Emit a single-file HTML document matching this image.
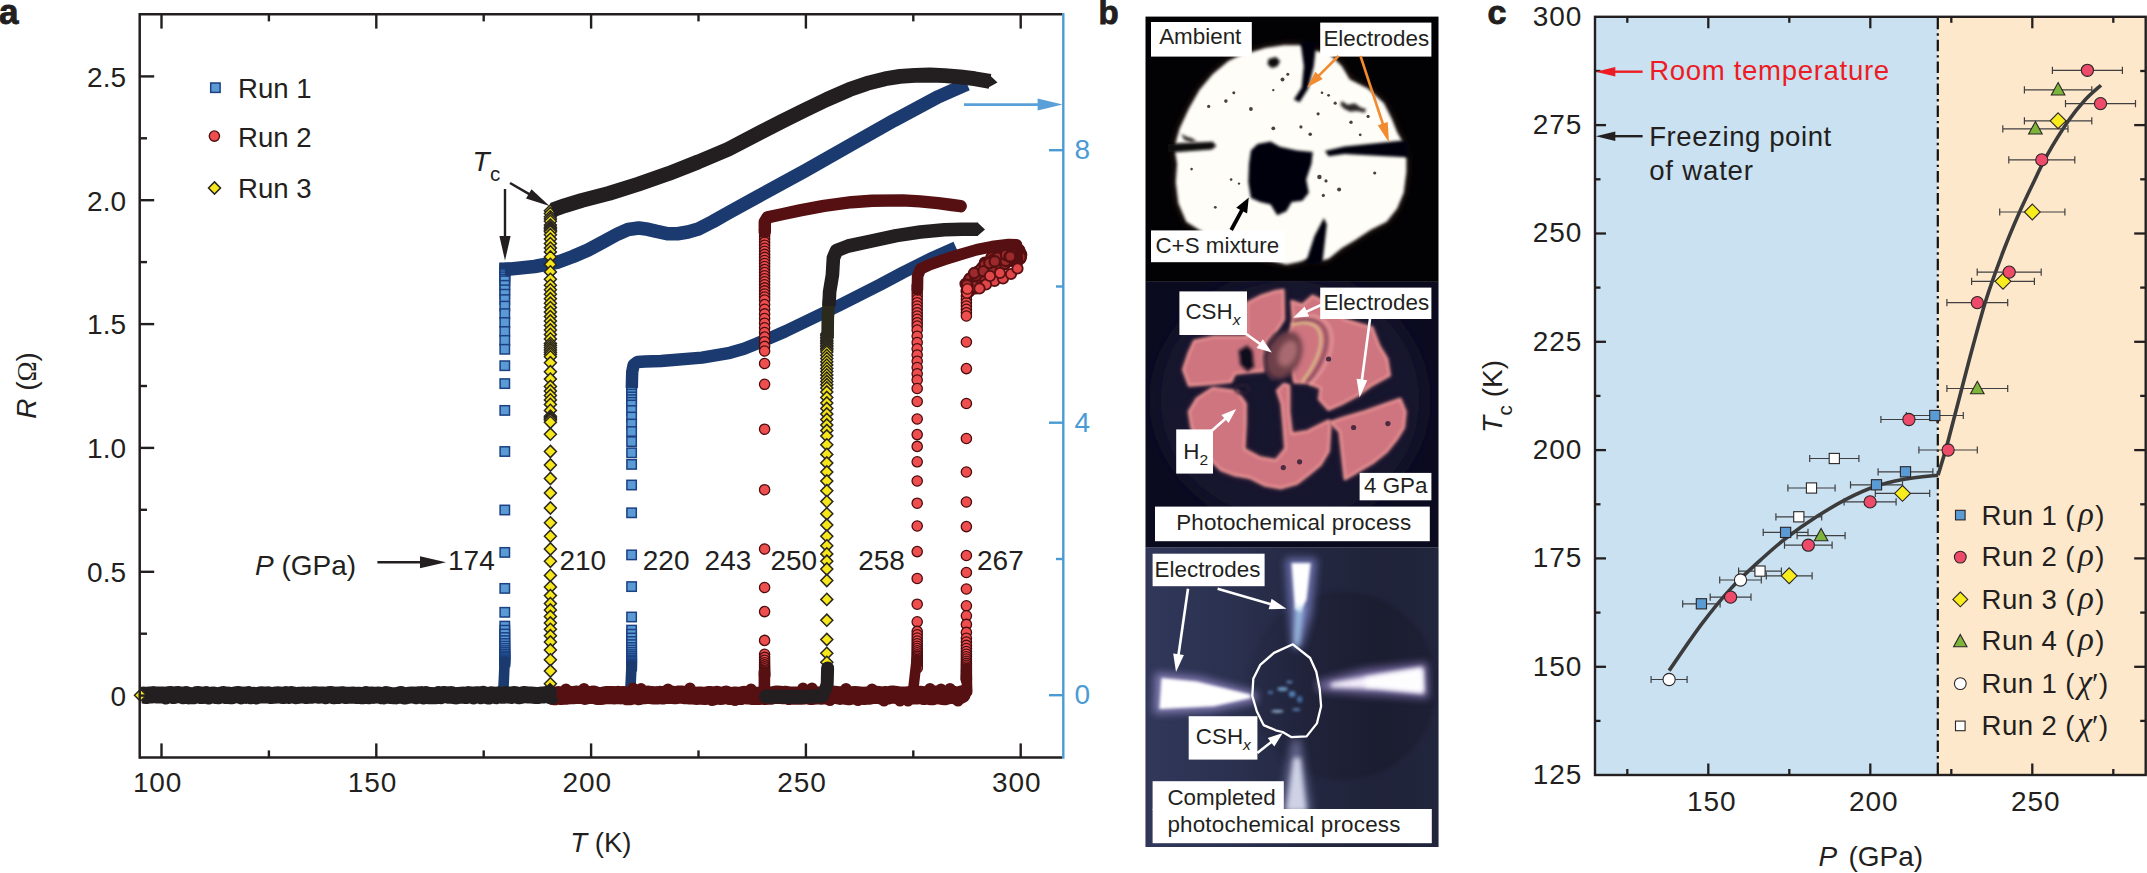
<!DOCTYPE html>
<html><head><meta charset="utf-8"><title>Figure</title>
<style>
html,body{margin:0;padding:0;background:#fff;}
svg{display:block;font-family:"Liberation Sans",sans-serif;}
</style></head><body>
<svg width="2147" height="873" viewBox="0 0 2147 873">
<defs>
<filter id="b1" filterUnits="userSpaceOnUse" x="1100" y="0" width="400" height="873"><feGaussianBlur stdDeviation="1.6"/></filter>
<filter id="b2" filterUnits="userSpaceOnUse" x="1100" y="0" width="400" height="873"><feGaussianBlur stdDeviation="2.6"/></filter>
<filter id="b4" filterUnits="userSpaceOnUse" x="1100" y="0" width="400" height="873"><feGaussianBlur stdDeviation="4.5"/></filter>
<filter id="b8" filterUnits="userSpaceOnUse" x="1100" y="0" width="400" height="873"><feGaussianBlur stdDeviation="9"/></filter>
<symbol id="sq" overflow="visible"><rect x="-4.7" y="-4.7" width="9.4" height="9.4" fill="#5b9bd5" stroke="#1b4083" stroke-width="1.5"/></symbol>
<symbol id="ci" overflow="visible"><circle r="5.15" fill="#ee4e4e" stroke="#4a0d0f" stroke-width="1.3"/></symbol>
<symbol id="di" overflow="visible"><path d="M0-6.1L6 0L0 6.1L-6 0Z" fill="#f6e71d" stroke="#2a2620" stroke-width="1.5"/></symbol>
<clipPath id="cpb1"><rect x="1145.5" y="16.6" width="293" height="264.2"/></clipPath>
<clipPath id="cpb2"><rect x="1145.5" y="280.8" width="293" height="266.7"/></clipPath>
<clipPath id="cpb3"><rect x="1145.5" y="547.5" width="293" height="299.5"/></clipPath>
<linearGradient id="g3" gradientUnits="userSpaceOnUse" x1="1145" y1="0" x2="1439" y2="0">
<stop offset="0" stop-color="#31375a"/><stop offset="0.3" stop-color="#292e4c"/><stop offset="0.55" stop-color="#20233a"/><stop offset="0.8" stop-color="#1b1d31"/><stop offset="1" stop-color="#1e2035"/></linearGradient>
</defs>
<rect width="2147" height="873" fill="#fff"/>
<g id="panel-a">
<use href="#sq" x="504.8" y="268"/>
<use href="#sq" x="504.8" y="270.2"/>
<use href="#sq" x="504.8" y="272.4"/>
<use href="#sq" x="504.8" y="274.6"/>
<use href="#sq" x="504.8" y="276.8"/>
<use href="#sq" x="504.8" y="279"/>
<use href="#sq" x="504.8" y="280.8"/>
<use href="#sq" x="504.8" y="285.3"/>
<use href="#sq" x="504.8" y="289.8"/>
<use href="#sq" x="504.8" y="294.2"/>
<use href="#sq" x="504.8" y="299.6"/>
<use href="#sq" x="504.8" y="306.1"/>
<use href="#sq" x="504.8" y="313.6"/>
<use href="#sq" x="504.8" y="322.5"/>
<use href="#sq" x="504.8" y="331.5"/>
<use href="#sq" x="504.8" y="340.4"/>
<use href="#sq" x="504.8" y="349.3"/>
<use href="#sq" x="504.8" y="365.7"/>
<use href="#sq" x="504.8" y="383.6"/>
<use href="#sq" x="504.8" y="410.4"/>
<use href="#sq" x="504.8" y="451.5"/>
<use href="#sq" x="504.8" y="510"/>
<use href="#sq" x="504.8" y="552.4"/>
<use href="#sq" x="504.8" y="588.4"/>
<use href="#sq" x="504.8" y="612.3"/>
<use href="#sq" x="504.8" y="626.1"/>
<use href="#sq" x="504.8" y="630.2"/>
<use href="#sq" x="504.8" y="634"/>
<use href="#sq" x="504.8" y="637.5"/>
<use href="#sq" x="504.8" y="640.6"/>
<use href="#sq" x="504.8" y="643.5"/>
<use href="#sq" x="504.8" y="646.1"/>
<use href="#sq" x="504.8" y="648.4"/>
<use href="#sq" x="504.8" y="650.6"/>
<use href="#sq" x="504.8" y="652.5"/>
<use href="#sq" x="504.8" y="654.3"/>
<use href="#sq" x="504.8" y="655.9"/>
<use href="#sq" x="504.8" y="657.4"/>
<use href="#sq" x="504.8" y="658.7"/>
<use href="#sq" x="504.8" y="659.9"/>
<use href="#sq" x="504.8" y="661"/>
<use href="#sq" x="504.8" y="662"/>
<use href="#sq" x="631.6" y="386"/>
<use href="#sq" x="631.6" y="388.7"/>
<use href="#sq" x="631.6" y="391.4"/>
<use href="#sq" x="631.6" y="394.1"/>
<use href="#sq" x="631.6" y="396.9"/>
<use href="#sq" x="631.6" y="399.6"/>
<use href="#sq" x="631.6" y="402.3"/>
<use href="#sq" x="631.6" y="405"/>
<use href="#sq" x="631.6" y="410.5"/>
<use href="#sq" x="631.6" y="417"/>
<use href="#sq" x="631.6" y="424"/>
<use href="#sq" x="631.6" y="431.5"/>
<use href="#sq" x="631.6" y="441.6"/>
<use href="#sq" x="631.6" y="452.8"/>
<use href="#sq" x="631.6" y="464.4"/>
<use href="#sq" x="631.6" y="485"/>
<use href="#sq" x="631.6" y="512.8"/>
<use href="#sq" x="631.6" y="554.9"/>
<use href="#sq" x="631.6" y="586.6"/>
<use href="#sq" x="631.6" y="617"/>
<use href="#sq" x="631.6" y="630.1"/>
<use href="#sq" x="631.6" y="634.2"/>
<use href="#sq" x="631.6" y="638"/>
<use href="#sq" x="631.6" y="641.5"/>
<use href="#sq" x="631.6" y="644.6"/>
<use href="#sq" x="631.6" y="647.5"/>
<use href="#sq" x="631.6" y="650.1"/>
<use href="#sq" x="631.6" y="652.4"/>
<use href="#sq" x="631.6" y="654.6"/>
<use href="#sq" x="631.6" y="656.5"/>
<use href="#sq" x="631.6" y="658.3"/>
<use href="#sq" x="631.6" y="659.9"/>
<use href="#sq" x="631.6" y="661.4"/>
<use href="#sq" x="631.6" y="662.7"/>
<use href="#sq" x="631.6" y="663.9"/>
<use href="#sq" x="631.6" y="665"/>
<use href="#sq" x="631.6" y="666"/>
<polyline points="631.8,388 632.2,372 633.6,365 637.5,362 645,361.5 661,361 702,357.6 730,352.8 744,348.8 757,343.5 771,337.6 785,331.5 812,318.5 840,305 880,284.8 903,272.5 930,259 956,247.4" fill="none" stroke="#1b3a6f" stroke-width="12.4" stroke-linecap="butt" stroke-linejoin="round" />
<polyline points="504.8,269.6 534.5,266.5 558.3,262 573,256.5 588.1,250 603,242 617.9,233.9 628,229.6 638.8,228 648,229.3 656.7,231.4 667,233.6 677.5,233.7 688,232 698.4,229 713,221.5 728.2,212.8 758,196.5 804.7,171 849.4,145.7 894,120.4 938.7,96.6 967,84" fill="none" stroke="#1b3a6f" stroke-width="13.6" stroke-linecap="butt" stroke-linejoin="round" />
<polyline points="504.8,269 504.8,262.8" fill="none" stroke="#1b3a6f" stroke-width="10.8" stroke-linecap="butt" stroke-linejoin="round" />
<use href="#ci" x="764.6" y="230"/>
<use href="#ci" x="764.6" y="233"/>
<use href="#ci" x="764.6" y="236.1"/>
<use href="#ci" x="764.6" y="239.1"/>
<use href="#ci" x="764.6" y="242.2"/>
<use href="#ci" x="764.6" y="245.2"/>
<use href="#ci" x="764.6" y="248.3"/>
<use href="#ci" x="764.6" y="251.3"/>
<use href="#ci" x="764.6" y="254.4"/>
<use href="#ci" x="764.6" y="257.4"/>
<use href="#ci" x="764.6" y="260.5"/>
<use href="#ci" x="764.6" y="263.5"/>
<use href="#ci" x="764.6" y="266.5"/>
<use href="#ci" x="764.6" y="269.6"/>
<use href="#ci" x="764.6" y="272.6"/>
<use href="#ci" x="764.6" y="275.7"/>
<use href="#ci" x="764.6" y="278.7"/>
<use href="#ci" x="764.6" y="281.8"/>
<use href="#ci" x="764.6" y="284.8"/>
<use href="#ci" x="764.6" y="287.9"/>
<use href="#ci" x="764.6" y="290.9"/>
<use href="#ci" x="764.6" y="294"/>
<use href="#ci" x="764.6" y="297"/>
<use href="#ci" x="764.6" y="300"/>
<use href="#ci" x="764.6" y="304.6"/>
<use href="#ci" x="764.6" y="309.3"/>
<use href="#ci" x="764.6" y="313.9"/>
<use href="#ci" x="764.6" y="318.5"/>
<use href="#ci" x="764.6" y="323.2"/>
<use href="#ci" x="764.6" y="327.8"/>
<use href="#ci" x="764.6" y="332.5"/>
<use href="#ci" x="764.6" y="337.1"/>
<use href="#ci" x="764.6" y="341.7"/>
<use href="#ci" x="764.6" y="346.4"/>
<use href="#ci" x="764.6" y="351"/>
<use href="#ci" x="764.6" y="363.5"/>
<use href="#ci" x="764.6" y="384.3"/>
<use href="#ci" x="764.6" y="429.2"/>
<use href="#ci" x="764.6" y="489.7"/>
<use href="#ci" x="764.6" y="549"/>
<use href="#ci" x="764.6" y="587.5"/>
<use href="#ci" x="764.6" y="611.6"/>
<use href="#ci" x="764.6" y="640.4"/>
<use href="#ci" x="764.6" y="654.3"/>
<use href="#ci" x="764.6" y="657.4"/>
<use href="#ci" x="764.6" y="660.2"/>
<use href="#ci" x="764.6" y="662.7"/>
<use href="#ci" x="764.6" y="664.9"/>
<use href="#ci" x="764.6" y="666.9"/>
<use href="#ci" x="764.6" y="668.7"/>
<use href="#ci" x="764.6" y="670.3"/>
<use href="#ci" x="764.6" y="671.7"/>
<use href="#ci" x="764.6" y="673"/>
<use href="#ci" x="764.6" y="674.1"/>
<use href="#ci" x="764.6" y="675.1"/>
<use href="#ci" x="764.6" y="676"/>
<use href="#ci" x="917.2" y="286"/>
<use href="#ci" x="917.2" y="289.3"/>
<use href="#ci" x="917.2" y="292.7"/>
<use href="#ci" x="917.2" y="296"/>
<use href="#ci" x="917.2" y="299.3"/>
<use href="#ci" x="917.2" y="302.7"/>
<use href="#ci" x="917.2" y="306"/>
<use href="#ci" x="917.2" y="309.3"/>
<use href="#ci" x="917.2" y="312.7"/>
<use href="#ci" x="917.2" y="316"/>
<use href="#ci" x="917.2" y="319.3"/>
<use href="#ci" x="917.2" y="322.7"/>
<use href="#ci" x="917.2" y="326"/>
<use href="#ci" x="917.2" y="330"/>
<use href="#ci" x="917.2" y="336.2"/>
<use href="#ci" x="917.2" y="342.5"/>
<use href="#ci" x="917.2" y="348.8"/>
<use href="#ci" x="917.2" y="355"/>
<use href="#ci" x="917.2" y="361.2"/>
<use href="#ci" x="917.2" y="367.5"/>
<use href="#ci" x="917.2" y="373.8"/>
<use href="#ci" x="917.2" y="380"/>
<use href="#ci" x="917.2" y="388.5"/>
<use href="#ci" x="917.2" y="401.5"/>
<use href="#ci" x="917.2" y="419"/>
<use href="#ci" x="917.2" y="434.6"/>
<use href="#ci" x="917.2" y="446.4"/>
<use href="#ci" x="917.2" y="461.8"/>
<use href="#ci" x="917.2" y="481"/>
<use href="#ci" x="917.2" y="503.2"/>
<use href="#ci" x="917.2" y="526"/>
<use href="#ci" x="917.2" y="551.6"/>
<use href="#ci" x="917.2" y="578.5"/>
<use href="#ci" x="917.2" y="604.2"/>
<use href="#ci" x="917.2" y="621.8"/>
<use href="#ci" x="917.2" y="631.4"/>
<use href="#ci" x="917.2" y="634.8"/>
<use href="#ci" x="917.2" y="638"/>
<use href="#ci" x="917.2" y="641"/>
<use href="#ci" x="917.2" y="643.7"/>
<use href="#ci" x="917.2" y="646.3"/>
<use href="#ci" x="917.2" y="648.6"/>
<use href="#ci" x="917.2" y="650.8"/>
<use href="#ci" x="917.2" y="652.8"/>
<use href="#ci" x="917.2" y="654.7"/>
<use href="#ci" x="917.2" y="656.4"/>
<use href="#ci" x="917.2" y="658"/>
<use href="#ci" x="917.2" y="659.5"/>
<use href="#ci" x="917.2" y="660.9"/>
<use href="#ci" x="917.2" y="662.1"/>
<use href="#ci" x="917.2" y="663.3"/>
<use href="#ci" x="917.2" y="664.4"/>
<use href="#ci" x="917.2" y="665.4"/>
<use href="#ci" x="917.2" y="666.3"/>
<use href="#ci" x="917.2" y="667.2"/>
<use href="#ci" x="917.2" y="668"/>
<use href="#ci" x="966.4" y="296"/>
<use href="#ci" x="966.4" y="299.3"/>
<use href="#ci" x="966.4" y="302.7"/>
<use href="#ci" x="966.4" y="306"/>
<use href="#ci" x="966.4" y="309.3"/>
<use href="#ci" x="966.4" y="312.7"/>
<use href="#ci" x="966.4" y="316"/>
<use href="#ci" x="966.4" y="342"/>
<use href="#ci" x="966.4" y="368.6"/>
<use href="#ci" x="966.4" y="403.5"/>
<use href="#ci" x="966.4" y="438.5"/>
<use href="#ci" x="966.4" y="472"/>
<use href="#ci" x="966.4" y="502"/>
<use href="#ci" x="966.4" y="526.6"/>
<use href="#ci" x="966.4" y="555.5"/>
<use href="#ci" x="966.4" y="572.5"/>
<use href="#ci" x="966.4" y="589"/>
<use href="#ci" x="966.4" y="605.8"/>
<use href="#ci" x="966.4" y="615.8"/>
<use href="#ci" x="966.4" y="624.4"/>
<use href="#ci" x="966.4" y="632.4"/>
<use href="#ci" x="966.4" y="638.3"/>
<use href="#ci" x="966.4" y="642"/>
<use href="#ci" x="966.4" y="645.4"/>
<use href="#ci" x="966.4" y="648.5"/>
<use href="#ci" x="966.4" y="651.5"/>
<use href="#ci" x="966.4" y="654.2"/>
<use href="#ci" x="966.4" y="656.7"/>
<use href="#ci" x="966.4" y="659.1"/>
<use href="#ci" x="966.4" y="661.3"/>
<use href="#ci" x="966.4" y="663.4"/>
<use href="#ci" x="966.4" y="665.3"/>
<use href="#ci" x="966.4" y="667"/>
<use href="#ci" x="966.4" y="668.7"/>
<use href="#ci" x="966.4" y="670.2"/>
<use href="#ci" x="966.4" y="671.6"/>
<use href="#ci" x="966.4" y="673"/>
<use href="#ci" x="966.4" y="674.2"/>
<use href="#ci" x="966.4" y="675.4"/>
<use href="#ci" x="966.4" y="676.4"/>
<use href="#ci" x="966.4" y="677.4"/>
<use href="#ci" x="966.4" y="678.3"/>
<use href="#ci" x="966.4" y="679.2"/>
<use href="#ci" x="966.4" y="680"/>
<polyline points="968,291 972.5,281 979.5,274 988,267 995.5,261.5 1004,258 1012,255.5 1018,251" fill="none" stroke="#571012" stroke-width="15" stroke-linecap="round" stroke-linejoin="round" />
<circle cx="979.1" cy="274.3" r="5.2" fill="#9c2a2c" stroke="#571012" stroke-width="2.2"/>
<circle cx="971.1" cy="285" r="5.2" fill="#9c2a2c" stroke="#571012" stroke-width="2.2"/>
<circle cx="970.4" cy="282.4" r="5.2" fill="#9c2a2c" stroke="#571012" stroke-width="2.2"/>
<circle cx="984.9" cy="262.8" r="5.2" fill="#9c2a2c" stroke="#571012" stroke-width="2.2"/>
<circle cx="991.2" cy="263.6" r="5.2" fill="#9c2a2c" stroke="#571012" stroke-width="2.2"/>
<circle cx="978.1" cy="282.5" r="5.2" fill="#9c2a2c" stroke="#571012" stroke-width="2.2"/>
<circle cx="995.4" cy="267.1" r="5.2" fill="#9c2a2c" stroke="#571012" stroke-width="2.2"/>
<circle cx="973.2" cy="285.9" r="5.2" fill="#9c2a2c" stroke="#571012" stroke-width="2.2"/>
<circle cx="969.6" cy="279.3" r="5.2" fill="#9c2a2c" stroke="#571012" stroke-width="2.2"/>
<circle cx="1007.3" cy="257.6" r="5.2" fill="#9c2a2c" stroke="#571012" stroke-width="2.2"/>
<circle cx="998.9" cy="260.9" r="5.2" fill="#9c2a2c" stroke="#571012" stroke-width="2.2"/>
<circle cx="966.5" cy="283.9" r="5.2" fill="#9c2a2c" stroke="#571012" stroke-width="2.2"/>
<circle cx="1001.8" cy="257.3" r="5.2" fill="#9c2a2c" stroke="#571012" stroke-width="2.2"/>
<circle cx="996.4" cy="259.5" r="5.2" fill="#9c2a2c" stroke="#571012" stroke-width="2.2"/>
<circle cx="1010.8" cy="254.3" r="5.2" fill="#9c2a2c" stroke="#571012" stroke-width="2.2"/>
<circle cx="996.4" cy="266.1" r="5.2" fill="#9c2a2c" stroke="#571012" stroke-width="2.2"/>
<circle cx="1003.4" cy="263.5" r="5.2" fill="#9c2a2c" stroke="#571012" stroke-width="2.2"/>
<circle cx="971.5" cy="286.1" r="5.2" fill="#9c2a2c" stroke="#571012" stroke-width="2.2"/>
<circle cx="973.3" cy="276" r="5.2" fill="#9c2a2c" stroke="#571012" stroke-width="2.2"/>
<circle cx="1004.1" cy="260.4" r="5.2" fill="#9c2a2c" stroke="#571012" stroke-width="2.2"/>
<circle cx="1011.6" cy="257.6" r="5.2" fill="#9c2a2c" stroke="#571012" stroke-width="2.2"/>
<circle cx="998.1" cy="261" r="5.2" fill="#9c2a2c" stroke="#571012" stroke-width="2.2"/>
<circle cx="1015.5" cy="256" r="5.2" fill="#9c2a2c" stroke="#571012" stroke-width="2.2"/>
<circle cx="997.6" cy="261.9" r="5.2" fill="#9c2a2c" stroke="#571012" stroke-width="2.2"/>
<circle cx="1004.9" cy="263.7" r="5.2" fill="#9c2a2c" stroke="#571012" stroke-width="2.2"/>
<circle cx="978.9" cy="276.4" r="5.2" fill="#9c2a2c" stroke="#571012" stroke-width="2.2"/>
<circle cx="968.9" cy="286.3" r="5.2" fill="#9c2a2c" stroke="#571012" stroke-width="2.2"/>
<circle cx="968.2" cy="286.3" r="5.2" fill="#9c2a2c" stroke="#571012" stroke-width="2.2"/>
<circle cx="970.3" cy="281.2" r="5.2" fill="#9c2a2c" stroke="#571012" stroke-width="2.2"/>
<circle cx="1009.3" cy="255" r="5.2" fill="#9c2a2c" stroke="#571012" stroke-width="2.2"/>
<circle cx="998.3" cy="266.4" r="5.2" fill="#9c2a2c" stroke="#571012" stroke-width="2.2"/>
<circle cx="1010.8" cy="254.9" r="5.2" fill="#9c2a2c" stroke="#571012" stroke-width="2.2"/>
<circle cx="987.8" cy="276" r="5.2" fill="#9c2a2c" stroke="#571012" stroke-width="2.2"/>
<circle cx="970.5" cy="278.2" r="5.2" fill="#9c2a2c" stroke="#571012" stroke-width="2.2"/>
<circle cx="977.3" cy="278" r="5.2" fill="#9c2a2c" stroke="#571012" stroke-width="2.2"/>
<circle cx="974.4" cy="274.7" r="5.2" fill="#9c2a2c" stroke="#571012" stroke-width="2.2"/>
<circle cx="985.6" cy="275.4" r="5.2" fill="#9c2a2c" stroke="#571012" stroke-width="2.2"/>
<circle cx="1003.2" cy="260.4" r="5.2" fill="#9c2a2c" stroke="#571012" stroke-width="2.2"/>
<circle cx="998.2" cy="263.8" r="5.2" fill="#9c2a2c" stroke="#571012" stroke-width="2.2"/>
<circle cx="1011.5" cy="260.6" r="5.2" fill="#9c2a2c" stroke="#571012" stroke-width="2.2"/>
<circle cx="985.4" cy="264.9" r="5.2" fill="#9c2a2c" stroke="#571012" stroke-width="2.2"/>
<circle cx="995.8" cy="255.7" r="5.2" fill="#9c2a2c" stroke="#571012" stroke-width="2.2"/>
<circle cx="973.2" cy="276.5" r="5.2" fill="#9c2a2c" stroke="#571012" stroke-width="2.2"/>
<circle cx="965.7" cy="284" r="5.2" fill="#9c2a2c" stroke="#571012" stroke-width="2.2"/>
<circle cx="970.5" cy="279.2" r="5.2" fill="#9c2a2c" stroke="#571012" stroke-width="2.2"/>
<circle cx="1014.2" cy="251.6" r="5.2" fill="#9c2a2c" stroke="#571012" stroke-width="2.2"/>
<circle cx="977" cy="274.6" r="5.2" fill="#9c2a2c" stroke="#571012" stroke-width="2.2"/>
<circle cx="975.5" cy="288.3" r="5.2" fill="#9c2a2c" stroke="#571012" stroke-width="2.2"/>
<circle cx="990.3" cy="261.5" r="5.2" fill="#9c2a2c" stroke="#571012" stroke-width="2.2"/>
<circle cx="970.3" cy="281.8" r="5.2" fill="#9c2a2c" stroke="#571012" stroke-width="2.2"/>
<circle cx="1007.9" cy="251.2" r="5.2" fill="#9c2a2c" stroke="#571012" stroke-width="2.2"/>
<circle cx="1016.7" cy="249.2" r="5.2" fill="#9c2a2c" stroke="#571012" stroke-width="2.2"/>
<circle cx="990.3" cy="263.4" r="5.2" fill="#9c2a2c" stroke="#571012" stroke-width="2.2"/>
<circle cx="1020.9" cy="254.3" r="5.2" fill="#9c2a2c" stroke="#571012" stroke-width="2.2"/>
<circle cx="977.6" cy="272" r="5.2" fill="#9c2a2c" stroke="#571012" stroke-width="2.2"/>
<circle cx="1008" cy="260.6" r="5.2" fill="#9c2a2c" stroke="#571012" stroke-width="2.2"/>
<circle cx="980.1" cy="275.8" r="5.2" fill="#9c2a2c" stroke="#571012" stroke-width="2.2"/>
<circle cx="1021" cy="255.3" r="5.2" fill="#9c2a2c" stroke="#571012" stroke-width="2.2"/>
<circle cx="1012.5" cy="253.7" r="5.2" fill="#9c2a2c" stroke="#571012" stroke-width="2.2"/>
<circle cx="991.9" cy="258.9" r="5.2" fill="#9c2a2c" stroke="#571012" stroke-width="2.2"/>
<circle cx="967.4" cy="286.9" r="5.2" fill="#9c2a2c" stroke="#571012" stroke-width="2.2"/>
<circle cx="1007.3" cy="258.5" r="5.2" fill="#9c2a2c" stroke="#571012" stroke-width="2.2"/>
<circle cx="1020.2" cy="258.5" r="5.2" fill="#9c2a2c" stroke="#571012" stroke-width="2.2"/>
<circle cx="982.2" cy="267.6" r="5.2" fill="#9c2a2c" stroke="#571012" stroke-width="2.2"/>
<circle cx="973" cy="280.2" r="5.2" fill="#9c2a2c" stroke="#571012" stroke-width="2.2"/>
<circle cx="1017.4" cy="254.4" r="5.2" fill="#9c2a2c" stroke="#571012" stroke-width="2.2"/>
<circle cx="1003.5" cy="255.4" r="5.2" fill="#9c2a2c" stroke="#571012" stroke-width="2.2"/>
<circle cx="1005" cy="262.9" r="5.2" fill="#9c2a2c" stroke="#571012" stroke-width="2.2"/>
<circle cx="1006.3" cy="254.3" r="5.2" fill="#9c2a2c" stroke="#571012" stroke-width="2.2"/>
<circle cx="1007.2" cy="260.5" r="5.2" fill="#9c2a2c" stroke="#571012" stroke-width="2.2"/>
<circle cx="1016.4" cy="251.3" r="5.2" fill="#9c2a2c" stroke="#571012" stroke-width="2.2"/>
<circle cx="1018.3" cy="249.5" r="5.2" fill="#9c2a2c" stroke="#571012" stroke-width="2.2"/>
<circle cx="969.4" cy="287.1" r="5.2" fill="#9c2a2c" stroke="#571012" stroke-width="2.2"/>
<circle cx="1006.5" cy="260.5" r="5.2" fill="#9c2a2c" stroke="#571012" stroke-width="2.2"/>
<circle cx="1019.1" cy="250.5" r="5.2" fill="#9c2a2c" stroke="#571012" stroke-width="2.2"/>
<circle cx="991.5" cy="257.5" r="5.2" fill="#9c2a2c" stroke="#571012" stroke-width="2.2"/>
<circle cx="1018.6" cy="252.7" r="5.2" fill="#9c2a2c" stroke="#571012" stroke-width="2.2"/>
<circle cx="1015.1" cy="257.7" r="5.2" fill="#9c2a2c" stroke="#571012" stroke-width="2.2"/>
<circle cx="1008.2" cy="253.8" r="5.2" fill="#9c2a2c" stroke="#571012" stroke-width="2.2"/>
<circle cx="978.1" cy="275.1" r="5.2" fill="#9c2a2c" stroke="#571012" stroke-width="2.2"/>
<circle cx="978" cy="271.7" r="5.2" fill="#9c2a2c" stroke="#571012" stroke-width="2.2"/>
<circle cx="1013.4" cy="253.9" r="5.2" fill="#9c2a2c" stroke="#571012" stroke-width="2.2"/>
<circle cx="1000.3" cy="260.8" r="5.2" fill="#9c2a2c" stroke="#571012" stroke-width="2.2"/>
<circle cx="1015.1" cy="254.4" r="5.2" fill="#9c2a2c" stroke="#571012" stroke-width="2.2"/>
<circle cx="989.2" cy="263.2" r="5.2" fill="#9c2a2c" stroke="#571012" stroke-width="2.2"/>
<circle cx="970.5" cy="282.8" r="5.2" fill="#9c2a2c" stroke="#571012" stroke-width="2.2"/>
<circle cx="974.2" cy="282.5" r="5.2" fill="#9c2a2c" stroke="#571012" stroke-width="2.2"/>
<circle cx="993.6" cy="262.8" r="5.2" fill="#9c2a2c" stroke="#571012" stroke-width="2.2"/>
<circle cx="997.7" cy="258.3" r="5.2" fill="#9c2a2c" stroke="#571012" stroke-width="2.2"/>
<circle cx="993.2" cy="260" r="5.2" fill="#9c2a2c" stroke="#571012" stroke-width="2.2"/>
<circle cx="1007.8" cy="258.2" r="5.2" fill="#9c2a2c" stroke="#571012" stroke-width="2.2"/>
<circle cx="1010.8" cy="257.1" r="5.2" fill="#9c2a2c" stroke="#571012" stroke-width="2.2"/>
<circle cx="998.5" cy="261.1" r="5.2" fill="#9c2a2c" stroke="#571012" stroke-width="2.2"/>
<circle cx="1002.8" cy="259.4" r="5.2" fill="#9c2a2c" stroke="#571012" stroke-width="2.2"/>
<circle cx="995.1" cy="267.8" r="5.2" fill="#9c2a2c" stroke="#571012" stroke-width="2.2"/>
<circle cx="1017.3" cy="252.7" r="5.2" fill="#9c2a2c" stroke="#571012" stroke-width="2.2"/>
<circle cx="999.4" cy="266.2" r="5.2" fill="#9c2a2c" stroke="#571012" stroke-width="2.2"/>
<circle cx="969.4" cy="281.3" r="5.2" fill="#9c2a2c" stroke="#571012" stroke-width="2.2"/>
<circle cx="968.5" cy="281.7" r="5.2" fill="#9c2a2c" stroke="#571012" stroke-width="2.2"/>
<circle cx="1004.4" cy="264" r="5.2" fill="#9c2a2c" stroke="#571012" stroke-width="2.2"/>
<circle cx="975.5" cy="282.7" r="5.2" fill="#9c2a2c" stroke="#571012" stroke-width="2.2"/>
<circle cx="976.5" cy="286.6" r="5.2" fill="#9c2a2c" stroke="#571012" stroke-width="2.2"/>
<circle cx="980.8" cy="276.6" r="5.2" fill="#9c2a2c" stroke="#571012" stroke-width="2.2"/>
<circle cx="996" cy="268.9" r="5.2" fill="#9c2a2c" stroke="#571012" stroke-width="2.2"/>
<circle cx="973.3" cy="280.8" r="5.2" fill="#9c2a2c" stroke="#571012" stroke-width="2.2"/>
<circle cx="980.4" cy="269.9" r="5.2" fill="#9c2a2c" stroke="#571012" stroke-width="2.2"/>
<circle cx="1000.6" cy="259" r="5.2" fill="#9c2a2c" stroke="#571012" stroke-width="2.2"/>
<circle cx="984.8" cy="265.2" r="5.2" fill="#9c2a2c" stroke="#571012" stroke-width="2.2"/>
<circle cx="999.2" cy="255.9" r="5.2" fill="#9c2a2c" stroke="#571012" stroke-width="2.2"/>
<circle cx="1020.5" cy="257.2" r="5.2" fill="#9c2a2c" stroke="#571012" stroke-width="2.2"/>
<circle cx="969.7" cy="279.1" r="5.2" fill="#9c2a2c" stroke="#571012" stroke-width="2.2"/>
<circle cx="1006.1" cy="253.3" r="5.2" fill="#9c2a2c" stroke="#571012" stroke-width="2.2"/>
<circle cx="991.8" cy="271.3" r="5.2" fill="#9c2a2c" stroke="#571012" stroke-width="2.2"/>
<circle cx="975.5" cy="280.4" r="5.2" fill="#9c2a2c" stroke="#571012" stroke-width="2.2"/>
<circle cx="997.8" cy="257.5" r="5.2" fill="#9c2a2c" stroke="#571012" stroke-width="2.2"/>
<circle cx="972" cy="286.7" r="5.2" fill="#9c2a2c" stroke="#571012" stroke-width="2.2"/>
<circle cx="974.7" cy="287.9" r="5.2" fill="#9c2a2c" stroke="#571012" stroke-width="2.2"/>
<circle cx="1005.6" cy="260.9" r="5.2" fill="#9c2a2c" stroke="#571012" stroke-width="2.2"/>
<circle cx="973.9" cy="286.3" r="5.2" fill="#9c2a2c" stroke="#571012" stroke-width="2.2"/>
<circle cx="983.7" cy="276.6" r="5.2" fill="#9c2a2c" stroke="#571012" stroke-width="2.2"/>
<circle cx="975.8" cy="275.7" r="5.2" fill="#9c2a2c" stroke="#571012" stroke-width="2.2"/>
<circle cx="974.2" cy="273.1" r="5.2" fill="#9c2a2c" stroke="#571012" stroke-width="2.2"/>
<circle cx="967.4" cy="285.9" r="5.2" fill="#9c2a2c" stroke="#571012" stroke-width="2.2"/>
<circle cx="983.5" cy="271.2" r="5.2" fill="#9c2a2c" stroke="#571012" stroke-width="2.2"/>
<circle cx="989.4" cy="263.1" r="5.2" fill="#9c2a2c" stroke="#571012" stroke-width="2.2"/>
<circle cx="966.8" cy="284.9" r="5.2" fill="#9c2a2c" stroke="#571012" stroke-width="2.2"/>
<circle cx="1006" cy="254.8" r="5.2" fill="#9c2a2c" stroke="#571012" stroke-width="2.2"/>
<circle cx="994.8" cy="261.4" r="5.2" fill="#9c2a2c" stroke="#571012" stroke-width="2.2"/>
<circle cx="1009.7" cy="256.6" r="5.2" fill="#9c2a2c" stroke="#571012" stroke-width="2.2"/>
<circle cx="1010.3" cy="256.5" r="5.2" fill="#9c2a2c" stroke="#571012" stroke-width="2.2"/>
<polyline points="1018,247 1019,262 1016.5,268" fill="none" stroke="#571012" stroke-width="8.5" stroke-linecap="round" stroke-linejoin="round" />
<circle cx="994.5" cy="281" r="5.2" fill="#df4648" stroke="#571012" stroke-width="1.8"/>
<circle cx="1003" cy="278.5" r="5.2" fill="#df4648" stroke="#571012" stroke-width="1.8"/>
<circle cx="1011" cy="274" r="5.2" fill="#df4648" stroke="#571012" stroke-width="1.8"/>
<circle cx="1017.5" cy="268.5" r="5.2" fill="#df4648" stroke="#571012" stroke-width="1.8"/>
<circle cx="986" cy="284.5" r="5.2" fill="#df4648" stroke="#571012" stroke-width="1.8"/>
<circle cx="979.5" cy="288.5" r="5.2" fill="#df4648" stroke="#571012" stroke-width="1.8"/>
<circle cx="1000" cy="273" r="5.2" fill="#df4648" stroke="#571012" stroke-width="1.8"/>
<circle cx="990" cy="276" r="5.2" fill="#df4648" stroke="#571012" stroke-width="1.8"/>
<use href="#ci" x="967" y="293"/>
<use href="#ci" x="967.4" y="289"/>
<polyline points="764.8,232 764.8,222 767.5,217.4 782,214.3 800,210.4 824,205.8 851.5,202.2 872,200.8 903,200.4 920,201.4 938,203.2 952,205 960.7,206.2" fill="none" stroke="#571012" stroke-width="12.4" stroke-linecap="round" stroke-linejoin="round" />
<polyline points="917.4,290 917.6,276 920.5,269 930,264.6 944.5,259.5 960,254.6 976.6,249.8 992,246.6 1008.6,244.6 1016.5,244.8" fill="none" stroke="#571012" stroke-width="11.6" stroke-linecap="round" stroke-linejoin="round" />
<use href="#di" x="826.8" y="334"/>
<use href="#di" x="826.8" y="335.6"/>
<use href="#di" x="826.8" y="337.2"/>
<use href="#di" x="826.8" y="338.8"/>
<use href="#di" x="826.8" y="340.4"/>
<use href="#di" x="826.8" y="342"/>
<use href="#di" x="826.8" y="343.6"/>
<use href="#di" x="826.8" y="345.2"/>
<use href="#di" x="826.8" y="346.8"/>
<use href="#di" x="826.8" y="348.4"/>
<use href="#di" x="826.8" y="350"/>
<use href="#di" x="826.8" y="352"/>
<use href="#di" x="826.8" y="355.3"/>
<use href="#di" x="826.8" y="358.5"/>
<use href="#di" x="826.8" y="361.8"/>
<use href="#di" x="826.8" y="365.1"/>
<use href="#di" x="826.8" y="368.4"/>
<use href="#di" x="826.8" y="371.6"/>
<use href="#di" x="826.8" y="374.9"/>
<use href="#di" x="826.8" y="378.2"/>
<use href="#di" x="826.8" y="381.5"/>
<use href="#di" x="826.8" y="384.7"/>
<use href="#di" x="826.8" y="388"/>
<use href="#di" x="826.8" y="392"/>
<use href="#di" x="826.8" y="397.5"/>
<use href="#di" x="826.8" y="403"/>
<use href="#di" x="826.8" y="408.5"/>
<use href="#di" x="826.8" y="414"/>
<use href="#di" x="826.8" y="419.5"/>
<use href="#di" x="826.8" y="425"/>
<use href="#di" x="826.8" y="430.5"/>
<use href="#di" x="826.8" y="436"/>
<use href="#di" x="826.8" y="444.8"/>
<use href="#di" x="826.8" y="454.4"/>
<use href="#di" x="826.8" y="463"/>
<use href="#di" x="826.8" y="472"/>
<use href="#di" x="826.8" y="481"/>
<use href="#di" x="826.8" y="490.7"/>
<use href="#di" x="826.8" y="501.6"/>
<use href="#di" x="826.8" y="513.8"/>
<use href="#di" x="826.8" y="525"/>
<use href="#di" x="826.8" y="536.2"/>
<use href="#di" x="826.8" y="545.8"/>
<use href="#di" x="826.8" y="553.9"/>
<use href="#di" x="826.8" y="561.2"/>
<use href="#di" x="826.8" y="569"/>
<use href="#di" x="826.8" y="580.5"/>
<use href="#di" x="826.8" y="599.4"/>
<use href="#di" x="826.8" y="620.2"/>
<use href="#di" x="826.8" y="639.5"/>
<use href="#di" x="826.8" y="653.3"/>
<use href="#di" x="826.8" y="662.3"/>
<polyline points="827.6,338 827.8,318 829,300" fill="none" stroke="#2b2a1c" stroke-width="12.6" stroke-linecap="butt" stroke-linejoin="round" />
<polyline points="829,306 829.6,292 832.4,275 833.4,258 836.5,250.6 848.3,246 868.7,241.6 896.4,235.6 920.3,232 944.5,229.8 962,229.2 978,229.2" fill="none" stroke="#231f20" stroke-width="13.6" stroke-linecap="butt" stroke-linejoin="round" />
<polygon points="977.5,222.4 985,229.4 977.5,236" fill="#231f20" stroke="none" stroke-width="0" />
<use href="#di" x="550.4" y="210.8"/>
<use href="#di" x="550.4" y="213.5"/>
<use href="#di" x="550.4" y="216.8"/>
<use href="#di" x="550.4" y="219"/>
<use href="#di" x="550.4" y="221.3"/>
<use href="#di" x="550.4" y="225.1"/>
<use href="#di" x="550.4" y="227.2"/>
<use href="#di" x="550.4" y="228.7"/>
<use href="#di" x="550.4" y="230.2"/>
<use href="#di" x="550.4" y="231.7"/>
<use href="#di" x="550.4" y="234.7"/>
<use href="#di" x="550.4" y="239.1"/>
<use href="#di" x="550.4" y="243.6"/>
<use href="#di" x="550.4" y="248.1"/>
<use href="#di" x="550.4" y="251.9"/>
<use href="#di" x="550.4" y="257"/>
<use href="#di" x="550.4" y="264.4"/>
<use href="#di" x="550.4" y="271.9"/>
<use href="#di" x="550.4" y="279.3"/>
<use href="#di" x="550.4" y="285.3"/>
<use href="#di" x="550.4" y="289.8"/>
<use href="#di" x="550.4" y="294.2"/>
<use href="#di" x="550.4" y="298.7"/>
<use href="#di" x="550.4" y="303.2"/>
<use href="#di" x="550.4" y="307.6"/>
<use href="#di" x="550.4" y="312.1"/>
<use href="#di" x="550.4" y="316.6"/>
<use href="#di" x="550.4" y="321"/>
<use href="#di" x="550.4" y="325.5"/>
<use href="#di" x="550.4" y="330"/>
<use href="#di" x="550.4" y="334.4"/>
<use href="#di" x="550.4" y="338.9"/>
<use href="#di" x="550.4" y="343.4"/>
<use href="#di" x="550.4" y="345.6"/>
<use href="#di" x="550.4" y="347.8"/>
<use href="#di" x="550.4" y="350"/>
<use href="#di" x="550.4" y="352.3"/>
<use href="#di" x="550.4" y="354.4"/>
<use href="#di" x="550.4" y="356.8"/>
<use href="#di" x="550.4" y="362.7"/>
<use href="#di" x="550.4" y="371.7"/>
<use href="#di" x="550.4" y="379.1"/>
<use href="#di" x="550.4" y="386.5"/>
<use href="#di" x="550.4" y="391"/>
<use href="#di" x="550.4" y="395.5"/>
<use href="#di" x="550.4" y="399.9"/>
<use href="#di" x="550.4" y="404.4"/>
<use href="#di" x="550.4" y="410.4"/>
<use href="#di" x="550.4" y="416.2"/>
<use href="#di" x="550.4" y="417.8"/>
<use href="#di" x="550.4" y="419"/>
<use href="#di" x="550.4" y="420"/>
<use href="#di" x="550.4" y="422.3"/>
<use href="#di" x="550.4" y="434.2"/>
<use href="#di" x="550.4" y="451.5"/>
<use href="#di" x="550.4" y="465"/>
<use href="#di" x="550.4" y="478.5"/>
<use href="#di" x="550.4" y="493"/>
<use href="#di" x="550.4" y="508"/>
<use href="#di" x="550.4" y="522.8"/>
<use href="#di" x="550.4" y="536.2"/>
<use href="#di" x="550.4" y="549"/>
<use href="#di" x="550.4" y="561.3"/>
<use href="#di" x="550.4" y="575.4"/>
<use href="#di" x="550.4" y="587"/>
<use href="#di" x="550.4" y="595.6"/>
<use href="#di" x="550.4" y="603.6"/>
<use href="#di" x="550.4" y="610"/>
<use href="#di" x="550.4" y="616.5"/>
<use href="#di" x="550.4" y="623"/>
<use href="#di" x="550.4" y="629.3"/>
<use href="#di" x="550.4" y="635.7"/>
<use href="#di" x="550.4" y="642"/>
<use href="#di" x="550.4" y="650"/>
<use href="#di" x="550.4" y="659.8"/>
<use href="#di" x="550.4" y="671"/>
<use href="#di" x="550.4" y="683.8"/>
<polyline points="552.5,210 565,205.6 582,200.4 609,193.4 638,184.2 668.6,173.6 698,162 728.2,149.3 760,132.6 782,121.4 804.7,110.2 827,99.4 849.4,89.6 867,83.4 885.1,78.8 900,76.4 914.9,75.3 930,75 944.7,75.6 960,76.8 974.5,78.7 990,81.4" fill="none" stroke="#231f20" stroke-width="14.8" stroke-linecap="butt" stroke-linejoin="round" />
<polygon points="989,74.6 997.5,82.6 987,88.2" fill="#231f20" stroke="none" stroke-width="0" />
<polyline points="503.4,689 504.2,672 504.8,657" fill="none" stroke="#1b3a6f" stroke-width="10.6" stroke-linecap="butt" stroke-linejoin="round" />
<polyline points="630.4,689 631.2,672 631.6,661" fill="none" stroke="#1b3a6f" stroke-width="10.6" stroke-linecap="butt" stroke-linejoin="round" />
<polyline points="764.4,690 764.4,672" fill="none" stroke="#571012" stroke-width="11.6" stroke-linecap="round" stroke-linejoin="round" />
<polyline points="913.2,690 914.8,676 916.6,660" fill="none" stroke="#571012" stroke-width="10.6" stroke-linecap="round" stroke-linejoin="round" />
<polyline points="967.2,692 966.8,680 966.6,668" fill="none" stroke="#571012" stroke-width="10.6" stroke-linecap="round" stroke-linejoin="round" />
<polyline points="552,695.7 555,696.2 558,695.1 561,695.9 564,695.7 567,695.6 570,695.2 573,695.2 576,694.7 579,694.8 582,694.7 585,695.8 588,695 591,694.9 594,694.7 597,695.9 600,696 603,695.7 606,695.1 609,695 612,695.1 615,695.3 618,694.9 621,695.3 624,695 627,696.1 630,696.2 633,695.5 636,695 639,696.1 642,695.1 645,695.2 648,694.6 651,695.2 654,695.4 657,695.4 660,694.9 663,695.4 666,694.6 669,695 672,694.7 675,695.2 678,694.7 681,694.6 684,695.1 687,695 690,695.5 693,695.4 696,695.8 699,695.7 702,695.7 705,696 708,695.2 711,695.1 714,696.2 717,694.8 720,695.8 723,695.6 726,694.7 729,695.9 732,696 735,695.6 738,695.8 741,695.9 744,694.8 747,695.4 750,695.4 753,695.9 756,695.9 759,695.9 762,695.5 765,696 768,695.7 771,695.7 774,695 777,694.6 780,694.8 783,695.2 786,694.8 789,695.9 792,695.5 795,695.6 798,695.6 801,695.7 804,695.4 807,694.6 810,695.9 813,695.8 816,695.4 819,695.5 822,695.7 825,694.7 828,695.8 831,695 834,694.7 837,695 840,695.8 843,694.9 846,695.8 849,696.2 852,695.4 855,695.2 858,695.4 861,695.7 864,695.8 867,695.6 870,695.6 873,694.7 876,694.8 879,695 882,695.8 885,695.1 888,695.5 891,694.6 894,694.7 897,695 900,695.7 903,695.7 906,695.7 909,695.1 912,695.4 915,695.3 918,695.3 921,694.8 924,696 927,694.9 930,696.2 933,696.1 936,694.6 939,695.3 942,695.9 945,696.1 948,695.3 951,695 954,694.9 957,696.1 961.5,694.5" fill="none" stroke="#571012" stroke-width="18.2" stroke-linecap="round" stroke-linejoin="round" />
<circle cx="566" cy="689" r="5.6" fill="#571012"/>
<circle cx="584" cy="688.5" r="5.6" fill="#571012"/>
<circle cx="633" cy="688" r="5.6" fill="#571012"/>
<circle cx="641" cy="688.5" r="5.6" fill="#571012"/>
<circle cx="668" cy="689" r="5.6" fill="#571012"/>
<circle cx="690" cy="688" r="5.6" fill="#571012"/>
<circle cx="712" cy="700.5" r="5.6" fill="#571012"/>
<circle cx="735" cy="700.5" r="5.6" fill="#571012"/>
<circle cx="751" cy="689" r="5.6" fill="#571012"/>
<circle cx="803" cy="688" r="5.6" fill="#571012"/>
<circle cx="812" cy="688" r="5.6" fill="#571012"/>
<circle cx="830" cy="700.5" r="5.6" fill="#571012"/>
<circle cx="846" cy="688.5" r="5.6" fill="#571012"/>
<circle cx="858" cy="700.5" r="5.6" fill="#571012"/>
<circle cx="872" cy="689" r="5.6" fill="#571012"/>
<circle cx="884" cy="701" r="5.6" fill="#571012"/>
<circle cx="900" cy="701" r="5.6" fill="#571012"/>
<circle cx="908" cy="701" r="5.6" fill="#571012"/>
<circle cx="930" cy="688.5" r="5.6" fill="#571012"/>
<circle cx="941" cy="689" r="5.6" fill="#571012"/>
<circle cx="950" cy="688.5" r="5.6" fill="#571012"/>
<circle cx="958" cy="701" r="5.6" fill="#571012"/>
<polyline points="141,695.5 143.5,695 146,695.6 148.5,695.1 151,695 153.5,694.6 156,694.9 158.5,694.9 161,694.9 163.5,695 166,695.9 168.5,694.7 171,694.4 173.5,695.6 176,694.8 178.5,694.5 181,695 183.5,695.8 186,694.5 188.5,695.9 191,695.6 193.5,695.8 196,694.8 198.5,694.5 201,695.5 203.5,695.4 206,694.6 208.5,696 211,695.1 213.5,694.9 216,695.6 218.5,695.7 221,695.1 223.5,694.4 226,695.6 228.5,695 231,695.8 233.5,695.3 236,694.7 238.5,694.5 241,695.9 243.5,695.1 246,695.4 248.5,694.6 251,695.8 253.5,695.2 256,695.9 258.5,695.3 261,694.7 263.5,695.1 266,694.9 268.5,694.8 271,695.6 273.5,695.4 276,695 278.5,694.8 281,695.2 283.5,695.5 286,694.6 288.5,695.4 291,694.5 293.5,695.2 296,695.7 298.5,695.3 301,695.1 303.5,694.9 306,695.6 308.5,695.1 311,695.3 313.5,694.8 316,694.7 318.5,695.3 321,694.9 323.5,695 326,695.7 328.5,694.7 331,694.4 333.5,695.8 336,695 338.5,695.6 341,694.7 343.5,694.8 346,695.6 348.5,695.2 351,695.3 353.5,695 356,695.5 358.5,695.2 361,695.7 363.5,695.8 366,694.5 368.5,695.8 371,695 373.5,695.4 376,695.1 378.5,694.9 381,695.7 383.5,695.9 386,694.6 388.5,695.1 391,695.6 393.5,695.7 396,695.9 398.5,695.2 401,694.5 403.5,695.9 406,695.9 408.5,695.2 411,695.1 413.5,695.1 416,695.7 418.5,694.8 421,694.6 423.5,696 426,694.6 428.5,695.7 431,695.5 433.5,695.8 436,695.8 438.5,694.5 441,695.6 443.5,694.4 446,694.6 448.5,695.3 451,694.5 453.5,695.5 456,695.9 458.5,695.4 461,695.2 463.5,695.1 466,695.6 468.5,694.6 471,694.9 473.5,695.9 476,694.7 478.5,694.8 481,695.7 483.5,694.4 486,695.3 488.5,696 491,694.8 493.5,694.9 496,695.7 498.5,694.8 501,695.2 503.5,695.3 506,694.4 508.5,695.1 511,695.4 513.5,694.5 516,694.7 518.5,695.8 521,695.4 523.5,694.5 526,694.8 528.5,695.1 531,695 533.5,695.2 536,695.5 538.5,695.5 541,695 543.5,695 546,694.4 548.5,694.9 551,695.8 553,694" fill="none" stroke="#231f20" stroke-width="17" stroke-linecap="butt" stroke-linejoin="round" />
<use href="#di" x="140.5" y="695.3"/>
<polyline points="766,696.5 800,697 822,696" fill="none" stroke="#231f20" stroke-width="14" stroke-linecap="round" stroke-linejoin="round" />
<polyline points="820,696.5 824.5,692 827.2,684 827.6,668" fill="none" stroke="#231f20" stroke-width="13" stroke-linecap="round" stroke-linejoin="round" />
<polygon points="544,689 550,682.6 556.5,689 556.5,703 544,703" fill="#231f20" stroke="none" stroke-width="0" />
<line x1="139.7" y1="13" x2="139.7" y2="758.8" stroke="#231f20" stroke-width="2.5" />
<line x1="139.7" y1="14.2" x2="1062.2" y2="14.2" stroke="#231f20" stroke-width="2.5" />
<line x1="139.7" y1="757.6" x2="1062.2" y2="757.6" stroke="#231f20" stroke-width="2.5" />
<line x1="1063.3" y1="13" x2="1063.3" y2="758.8" stroke="#4a9bd4" stroke-width="2.4" />
<line x1="161.5" y1="14.2" x2="161.5" y2="28.6" stroke="#231f20" stroke-width="2.4" />
<line x1="161.5" y1="757.6" x2="161.5" y2="743.4" stroke="#231f20" stroke-width="2.4" />
<text x="157.6" y="792.2" font-size="28" text-anchor="middle" fill="#231f20" letter-spacing="0.9">100</text>
<line x1="376.3" y1="14.2" x2="376.3" y2="28.6" stroke="#231f20" stroke-width="2.4" />
<line x1="376.3" y1="757.6" x2="376.3" y2="743.4" stroke="#231f20" stroke-width="2.4" />
<text x="372.4" y="792.2" font-size="28" text-anchor="middle" fill="#231f20" letter-spacing="0.9">150</text>
<line x1="591.1" y1="14.2" x2="591.1" y2="28.6" stroke="#231f20" stroke-width="2.4" />
<line x1="591.1" y1="757.6" x2="591.1" y2="743.4" stroke="#231f20" stroke-width="2.4" />
<text x="587.2" y="792.2" font-size="28" text-anchor="middle" fill="#231f20" letter-spacing="0.9">200</text>
<line x1="805.9" y1="14.2" x2="805.9" y2="28.6" stroke="#231f20" stroke-width="2.4" />
<line x1="805.9" y1="757.6" x2="805.9" y2="743.4" stroke="#231f20" stroke-width="2.4" />
<text x="802" y="792.2" font-size="28" text-anchor="middle" fill="#231f20" letter-spacing="0.9">250</text>
<line x1="1020.7" y1="14.2" x2="1020.7" y2="28.6" stroke="#231f20" stroke-width="2.4" />
<line x1="1020.7" y1="757.6" x2="1020.7" y2="743.4" stroke="#231f20" stroke-width="2.4" />
<text x="1016.8" y="792.2" font-size="28" text-anchor="middle" fill="#231f20" letter-spacing="0.9">300</text>
<line x1="268.9" y1="14.2" x2="268.9" y2="21.4" stroke="#231f20" stroke-width="2.4" />
<line x1="268.9" y1="757.6" x2="268.9" y2="750.4" stroke="#231f20" stroke-width="2.4" />
<line x1="483.7" y1="14.2" x2="483.7" y2="21.4" stroke="#231f20" stroke-width="2.4" />
<line x1="483.7" y1="757.6" x2="483.7" y2="750.4" stroke="#231f20" stroke-width="2.4" />
<line x1="698.5" y1="14.2" x2="698.5" y2="21.4" stroke="#231f20" stroke-width="2.4" />
<line x1="698.5" y1="757.6" x2="698.5" y2="750.4" stroke="#231f20" stroke-width="2.4" />
<line x1="913.3" y1="14.2" x2="913.3" y2="21.4" stroke="#231f20" stroke-width="2.4" />
<line x1="913.3" y1="757.6" x2="913.3" y2="750.4" stroke="#231f20" stroke-width="2.4" />
<line x1="139.7" y1="695.6" x2="154.2" y2="695.6" stroke="#231f20" stroke-width="2.4" />
<text x="126" y="705.9" font-size="28" text-anchor="end" fill="#231f20" >0</text>
<line x1="139.7" y1="571.8" x2="154.2" y2="571.8" stroke="#231f20" stroke-width="2.4" />
<text x="126" y="582" font-size="28" text-anchor="end" fill="#231f20" >0.5</text>
<line x1="139.7" y1="447.9" x2="154.2" y2="447.9" stroke="#231f20" stroke-width="2.4" />
<text x="126" y="458.2" font-size="28" text-anchor="end" fill="#231f20" >1.0</text>
<line x1="139.7" y1="324.1" x2="154.2" y2="324.1" stroke="#231f20" stroke-width="2.4" />
<text x="126" y="334.4" font-size="28" text-anchor="end" fill="#231f20" >1.5</text>
<line x1="139.7" y1="200.2" x2="154.2" y2="200.2" stroke="#231f20" stroke-width="2.4" />
<text x="126" y="210.5" font-size="28" text-anchor="end" fill="#231f20" >2.0</text>
<line x1="139.7" y1="76.4" x2="154.2" y2="76.4" stroke="#231f20" stroke-width="2.4" />
<text x="126" y="86.7" font-size="28" text-anchor="end" fill="#231f20" >2.5</text>
<line x1="139.7" y1="633.7" x2="147" y2="633.7" stroke="#231f20" stroke-width="2.4" />
<line x1="139.7" y1="509.8" x2="147" y2="509.8" stroke="#231f20" stroke-width="2.4" />
<line x1="139.7" y1="386" x2="147" y2="386" stroke="#231f20" stroke-width="2.4" />
<line x1="139.7" y1="262.1" x2="147" y2="262.1" stroke="#231f20" stroke-width="2.4" />
<line x1="139.7" y1="138.3" x2="147" y2="138.3" stroke="#231f20" stroke-width="2.4" />
<line x1="1063.3" y1="695.2" x2="1049" y2="695.2" stroke="#4a9bd4" stroke-width="2.4" />
<text x="1074.6" y="704.1" font-size="28" text-anchor="start" fill="#4a9bd4" >0</text>
<line x1="1063.3" y1="422.7" x2="1049" y2="422.7" stroke="#4a9bd4" stroke-width="2.4" />
<text x="1074.6" y="431.6" font-size="28" text-anchor="start" fill="#4a9bd4" >4</text>
<line x1="1063.3" y1="150.2" x2="1049" y2="150.2" stroke="#4a9bd4" stroke-width="2.4" />
<text x="1074.6" y="159.1" font-size="28" text-anchor="start" fill="#4a9bd4" >8</text>
<line x1="1063.3" y1="559" x2="1056" y2="559" stroke="#4a9bd4" stroke-width="2.4" />
<line x1="1063.3" y1="286.5" x2="1056" y2="286.5" stroke="#4a9bd4" stroke-width="2.4" />
<line x1="964" y1="104.6" x2="1039.6" y2="104.6" stroke="#5b9fd8" stroke-width="2.6" />
<polygon points="1062.6,104.6 1037.6,110.6 1037.6,98.6" fill="#5b9fd8" stroke="none" stroke-width="0" />
<text x="-1" y="24.4" font-size="35" text-anchor="start" fill="#231f20" font-weight="bold" stroke="#231f20" stroke-width="0.9">a</text>
<text transform="translate(36.2,418.8) rotate(-90)" font-size="28" fill="#231f20"><tspan font-style="italic">R</tspan> (<tspan font-family='"Liberation Serif", serif' font-size="27">Ω</tspan>)</text>
<text x="570.2" y="851.6" font-size="27.6" fill="#231f20"><tspan font-style="italic">T</tspan> (K)</text>
<use href="#sq" x="215.4" y="87.7"/>
<use href="#ci" x="214.4" y="136.1"/>
<use href="#di" x="214.5" y="188"/>
<text x="238" y="97.9" font-size="27.6" text-anchor="start" fill="#231f20" >Run 1</text>
<text x="238" y="146.5" font-size="27.6" text-anchor="start" fill="#231f20" >Run 2</text>
<text x="238" y="198.2" font-size="27.6" text-anchor="start" fill="#231f20" >Run 3</text>
<text x="472.4" y="171.4" font-size="28" fill="#231f20"><tspan font-style="italic">T</tspan><tspan dx="0.5" dy="9.6" font-size="20.5">c</tspan></text>
<line x1="505" y1="189" x2="505" y2="238.1" stroke="#231f20" stroke-width="2.4" />
<polygon points="505,260.6 499.4,236.1 510.6,236.1" fill="#231f20" stroke="none" stroke-width="0" />
<line x1="510" y1="183" x2="530.5" y2="194.9" stroke="#231f20" stroke-width="2.4" />
<polygon points="549.5,206 526,198.6 531.5,189.3" fill="#231f20" stroke="none" stroke-width="0" />
<text x="255" y="574.6" font-size="28" fill="#231f20"><tspan font-style="italic">P</tspan> (GPa)</text>
<line x1="377.4" y1="562.2" x2="422" y2="562.2" stroke="#231f20" stroke-width="2.4" />
<polygon points="446,562.2 420,568.2 420,556.2" fill="#231f20" stroke="none" stroke-width="0" />
<text x="448" y="570.4" font-size="28" text-anchor="start" fill="#231f20" >174</text>
<text x="559.4" y="570.4" font-size="28" text-anchor="start" fill="#231f20" >210</text>
<text x="642.8" y="570.4" font-size="28" text-anchor="start" fill="#231f20" >220</text>
<text x="704.6" y="570.4" font-size="28" text-anchor="start" fill="#231f20" >243</text>
<text x="770.4" y="570.4" font-size="28" text-anchor="start" fill="#231f20" >250</text>
<text x="858.2" y="570.4" font-size="28" text-anchor="start" fill="#231f20" >258</text>
<text x="977" y="570.4" font-size="28" text-anchor="start" fill="#231f20" >267</text>
</g>
<g id="panel-b">
<text x="1098.4" y="24.2" font-size="33" text-anchor="start" fill="#231f20" font-weight="bold" stroke="#231f20" stroke-width="0.9">b</text>
<rect x="1145.5" y="16.6" width="293" height="265.2" fill="#020104"/>
<g clip-path="url(#cpb1)">
<polygon points="1252.2,51.9 1265.4,47.9 1283.8,45.3 1300.9,45.3 1315.4,51.1 1328.6,53.2 1341.8,66.3 1349.7,79.5 1368.1,88.7 1383.9,103.2 1391.8,119 1397.1,132.2 1403.7,144.1 1406.3,158.5 1406.3,171.7 1403.7,192.8 1397.1,208.6 1386.6,221.8 1370.7,229.7 1354.9,240.2 1341.8,248.1 1328.6,258.7 1320.7,260.8 1307.5,258.7 1299.6,261.8 1286.4,264.4 1265.4,258.7 1239,248.1 1207.4,234.9 1186.3,221.8 1178.4,203.3 1175.8,182.3 1177.1,163.8 1174.5,148 1177.1,137.5 1179.8,128.3 1189,108.5 1199.5,90.1 1212.7,74.2 1228.5,61.1 1241.7,54.5" fill="#3a2c22" stroke="none" stroke-width="0" filter="url(#b4)"/>
<polygon points="1252.2,51.9 1265.4,47.9 1283.8,45.3 1300.9,45.3 1315.4,51.1 1328.6,53.2 1341.8,66.3 1349.7,79.5 1368.1,88.7 1383.9,103.2 1391.8,119 1397.1,132.2 1403.7,144.1 1406.3,158.5 1406.3,171.7 1403.7,192.8 1397.1,208.6 1386.6,221.8 1370.7,229.7 1354.9,240.2 1341.8,248.1 1328.6,258.7 1320.7,260.8 1307.5,258.7 1299.6,261.8 1286.4,264.4 1265.4,258.7 1239,248.1 1207.4,234.9 1186.3,221.8 1178.4,203.3 1175.8,182.3 1177.1,163.8 1174.5,148 1177.1,137.5 1179.8,128.3 1189,108.5 1199.5,90.1 1212.7,74.2 1228.5,61.1 1241.7,54.5" fill="#fefdf8" stroke="none" stroke-width="0" filter="url(#b1)"/>
<polygon points="1300.4,41.3 1316.5,41.3 1313.8,66.3 1308.1,88.7 1299.6,102.2 1293.8,99.5 1301.7,87.4 1303.8,66.3" fill="#06040a" stroke="none" stroke-width="0" filter="url(#b1)"/>
<polygon points="1167.9,143.8 1212.7,141.7 1216.4,145.9 1211.6,149.6 1167.9,152.8" fill="#0c0709" stroke="none" stroke-width="0" filter="url(#b1)"/>
<polygon points="1324.9,150.9 1344.4,146.4 1407.6,140.1 1410.3,157.5 1344.4,154.1 1328.6,156.2" fill="#06040a" stroke="none" stroke-width="0" filter="url(#b1)"/>
<polygon points="1323.9,218.1 1326.8,224.4 1322.3,263.9 1305.4,263.9 1314.4,236.3" fill="#06040a" stroke="none" stroke-width="0" filter="url(#b1)"/>
<polygon points="1250.9,150.6 1257.5,144.1 1270.6,141.4 1279.9,146.7 1297,150.6 1312.8,152 1311.5,163.8 1306.2,179.6 1308.8,192.8 1302.3,200.7 1291.7,202 1286.4,211.2 1277.2,215.2 1270.6,204.6 1260.1,202 1250.9,198.1 1248.3,182.3 1249,163.8" fill="#05030a" stroke="none" stroke-width="0" filter="url(#b1)"/>
<polygon points="1268.5,59 1275.9,56.9 1280.1,61.1 1277.5,66.3 1271.7,67.9 1267.5,64.2" fill="#0e0a0e" stroke="none" stroke-width="0" filter="url(#b1)"/>
<polygon points="1341.8,101.1 1347.6,104.8 1354.9,103.2 1360.7,107.4 1366,109 1365,112.7 1357,111.1 1350.2,111.7 1344.4,109 1340.2,104.8" fill="#1a1416" stroke="none" stroke-width="0" filter="url(#b1)" opacity="0.92"/>
<polygon points="1181.1,133.8 1186.3,136.4 1191.6,138 1196.9,141.2 1191.1,142.2 1184.2,140.1" fill="#241c1e" stroke="none" stroke-width="0" filter="url(#b1)" opacity="0.9"/>
<circle cx="1282.5" cy="79.5" r="2.0" fill="#2a1f22" opacity="0.85"/>
<circle cx="1287.8" cy="74.2" r="1.5" fill="#2a1f22" opacity="0.85"/>
<circle cx="1233.8" cy="92.7" r="1.5" fill="#2a1f22" opacity="0.85"/>
<circle cx="1225.9" cy="101.1" r="1.8" fill="#2a1f22" opacity="0.85"/>
<circle cx="1208.7" cy="106.4" r="1.6" fill="#2a1f22" opacity="0.85"/>
<circle cx="1250.9" cy="109" r="1.9" fill="#2a1f22" opacity="0.85"/>
<circle cx="1273.3" cy="128.3" r="1.9" fill="#2a1f22" opacity="0.85"/>
<circle cx="1300.9" cy="126.9" r="1.6" fill="#2a1f22" opacity="0.85"/>
<circle cx="1310.2" cy="134.3" r="1.8" fill="#2a1f22" opacity="0.85"/>
<circle cx="1318.1" cy="113.8" r="1.6" fill="#2a1f22" opacity="0.85"/>
<circle cx="1335.2" cy="103.2" r="1.6" fill="#2a1f22" opacity="0.85"/>
<circle cx="1351" cy="122.2" r="1.7" fill="#2a1f22" opacity="0.85"/>
<circle cx="1368.1" cy="116.4" r="1.6" fill="#2a1f22" opacity="0.85"/>
<circle cx="1319.4" cy="177" r="2.2" fill="#2a1f22" opacity="0.85"/>
<circle cx="1326" cy="180.9" r="1.6" fill="#2a1f22" opacity="0.85"/>
<circle cx="1339.1" cy="189.6" r="2.0" fill="#2a1f22" opacity="0.85"/>
<circle cx="1323.3" cy="195.4" r="1.6" fill="#2a1f22" opacity="0.85"/>
<circle cx="1374.7" cy="173" r="1.6" fill="#2a1f22" opacity="0.85"/>
<circle cx="1215.3" cy="207.3" r="1.4" fill="#2a1f22" opacity="0.85"/>
<circle cx="1231.1" cy="179.6" r="1.3" fill="#2a1f22" opacity="0.85"/>
<circle cx="1328.6" cy="95.3" r="1.4" fill="#2a1f22" opacity="0.85"/>
<circle cx="1322" cy="92.7" r="1.3" fill="#2a1f22" opacity="0.85"/>
<circle cx="1360.2" cy="134.8" r="1.4" fill="#2a1f22" opacity="0.85"/>
<circle cx="1273.3" cy="90.1" r="1.2" fill="#2a1f22" opacity="0.85"/>
<circle cx="1239" cy="183.6" r="1.2" fill="#2a1f22" opacity="0.85"/>
<circle cx="1191.6" cy="169.1" r="1.3" fill="#2a1f22" opacity="0.85"/>
</g>
<rect x="1151" y="22" width="100.8" height="34.6" fill="#fff"/>
<text x="1159.2" y="44.2" font-size="22.4" text-anchor="start" fill="#231f20" >Ambient</text>
<rect x="1320.2" y="22.6" width="111.2" height="34" fill="#fff"/>
<text x="1323.4" y="46.3" font-size="22.4" text-anchor="start" fill="#231f20" >Electrodes</text>
<rect x="1151" y="230.4" width="134" height="31.8" fill="#fff"/>
<text x="1155.4" y="252.8" font-size="22.4" text-anchor="start" fill="#231f20" >C+S mixture</text>
<line x1="1338.5" y1="56" x2="1317.6" y2="76.8" stroke="#f28a30" stroke-width="2.6" />
<polygon points="1307,87.4 1315.4,71.7 1322.7,79.1" fill="#f28a30" stroke="none" stroke-width="0" />
<line x1="1360.5" y1="56" x2="1383.4" y2="125.5" stroke="#f28a30" stroke-width="2.6" />
<polygon points="1389,142.6 1377.8,125.2 1387.7,122" fill="#f28a30" stroke="none" stroke-width="0" />
<line x1="1231.2" y1="230" x2="1242.6" y2="208.8" stroke="#000" stroke-width="3.8" />
<polygon points="1248.8,197.4 1247.1,213.5 1236.2,207.7" fill="#000" stroke="none" stroke-width="0" />
<rect x="1145.5" y="281.6" width="293" height="266" fill="#0b0b20"/>
<g clip-path="url(#cpb2)">
<ellipse cx="1290" cy="400" rx="135" ry="125" fill="#15142e" filter="url(#b8)"/>
<polygon points="1246.9,303.2 1260.1,296.3 1273.3,291.9 1283.3,290 1283.8,319.5 1277.2,329.5 1266.7,341.1 1262.7,356.4 1263.8,370.9 1246.9,372.2 1234.8,373.8 1231.1,381.7 1212.7,383.8 1189,385.4 1183.2,369.6 1188.5,353.8 1194.2,341.1 1212.7,336.9 1246.9,336.9" fill="#4a2740" stroke="none" stroke-width="0" filter="url(#b4)" opacity="0.9"/>
<polygon points="1293,319.5 1291.7,301.1 1302.3,305 1312.8,295.8 1328.6,303.7 1344.4,319.5 1360.2,324.3 1372.1,327.4 1379.2,345.9 1387.1,359 1389.7,375.4 1370.7,385.9 1357.6,395.4 1341.8,403.8 1328.6,409.6 1319.1,399.1 1320.7,388 1307.5,382.7 1294.4,382.2 1290.4,359 1289.6,334" fill="#4a2740" stroke="none" stroke-width="0" filter="url(#b4)" opacity="0.9"/>
<polygon points="1330.2,422.3 1344.4,417.5 1365.5,411.2 1386.6,403.8 1400.3,399.1 1405.5,411.7 1403.9,427.5 1397.1,438.6 1386.6,451.8 1373.4,462.3 1360.2,470.2 1344.9,479.2 1341.8,451.2 1339.7,431.7" fill="#4a2740" stroke="none" stroke-width="0" filter="url(#b4)" opacity="0.9"/>
<polygon points="1212.7,388 1236.9,391.2 1245.6,403.8 1245.6,422.3 1244.3,449.1 1260.1,457.6 1275.9,460.2 1285.4,448.6 1283.8,427.5 1281.7,403.8 1277.2,390.6 1283.8,384.1 1289.1,385.4 1289.1,411.7 1291.7,433.8 1307.5,431.2 1328.6,420.7 1330.2,426.5 1328.6,451.2 1320.7,464.4 1307.5,475.5 1297,483.4 1281.2,488.1 1265.4,485.5 1249.6,477.6 1233.8,474.9 1220.6,469.7 1212.7,461.8 1199.5,443.3 1191.6,427.5 1189,411.7 1196.9,398.5" fill="#4a2740" stroke="none" stroke-width="0" filter="url(#b4)" opacity="0.9"/>
<polygon points="1246.9,303.2 1260.1,296.3 1273.3,291.9 1283.3,290 1283.8,319.5 1277.2,329.5 1266.7,341.1 1262.7,356.4 1263.8,370.9 1246.9,372.2 1234.8,373.8 1231.1,381.7 1212.7,383.8 1189,385.4 1183.2,369.6 1188.5,353.8 1194.2,341.1 1212.7,336.9 1246.9,336.9" fill="#cf7480" stroke="#ee9694" stroke-width="2.6" filter="url(#b1)" stroke-linejoin="round"/>
<polygon points="1293,319.5 1291.7,301.1 1302.3,305 1312.8,295.8 1328.6,303.7 1344.4,319.5 1360.2,324.3 1372.1,327.4 1379.2,345.9 1387.1,359 1389.7,375.4 1370.7,385.9 1357.6,395.4 1341.8,403.8 1328.6,409.6 1319.1,399.1 1320.7,388 1307.5,382.7 1294.4,382.2 1290.4,359 1289.6,334" fill="#cf7480" stroke="#ee9694" stroke-width="2.6" filter="url(#b1)" stroke-linejoin="round"/>
<polygon points="1330.2,422.3 1344.4,417.5 1365.5,411.2 1386.6,403.8 1400.3,399.1 1405.5,411.7 1403.9,427.5 1397.1,438.6 1386.6,451.8 1373.4,462.3 1360.2,470.2 1344.9,479.2 1341.8,451.2 1339.7,431.7" fill="#cf7480" stroke="#ee9694" stroke-width="2.6" filter="url(#b1)" stroke-linejoin="round"/>
<polygon points="1212.7,388 1236.9,391.2 1245.6,403.8 1245.6,422.3 1244.3,449.1 1260.1,457.6 1275.9,460.2 1285.4,448.6 1283.8,427.5 1281.7,403.8 1277.2,390.6 1283.8,384.1 1289.1,385.4 1289.1,411.7 1291.7,433.8 1307.5,431.2 1328.6,420.7 1330.2,426.5 1328.6,451.2 1320.7,464.4 1307.5,475.5 1297,483.4 1281.2,488.1 1265.4,485.5 1249.6,477.6 1233.8,474.9 1220.6,469.7 1212.7,461.8 1199.5,443.3 1191.6,427.5 1189,411.7 1196.9,398.5" fill="#cf7480" stroke="#ee9694" stroke-width="2.6" filter="url(#b1)" stroke-linejoin="round"/>
<polygon points="1238.5,350.6 1246.9,345.3 1252.7,350.6 1254.3,366.9 1247.5,371.7 1240.1,364.8" fill="#0d0b1e" stroke="#7a4858" stroke-width="1.4" filter="url(#b1)" stroke-linejoin="round"/>
<ellipse cx="1283.8" cy="355.1" rx="17" ry="25" fill="#6e3f48" filter="url(#b2)" transform="rotate(24 1283.8 355.1)"/>
<ellipse cx="1286.8" cy="352.1" rx="9" ry="14" fill="#a86a70" filter="url(#b2)" transform="rotate(24 1283.8 355.1)"/>
<path d="M1291.7 324.8 C 1328.6 314.2, 1328.6 348.5, 1302.3 381.4" fill="none" stroke="#d8cf86" stroke-width="2.6" opacity="0.85" filter="url(#b1)"/>
<path d="M1293 320.8 C 1335.2 310.3, 1335.2 351.1, 1306.2 383.3" fill="none" stroke="#5a3446" stroke-width="2.2" opacity="0.75" filter="url(#b1)"/>
<path d="M1294.4 316.9 C 1341.8 306.3, 1341.8 353.8, 1310.2 384.8" fill="none" stroke="#f0b0aa" stroke-width="2.0" opacity="0.7" filter="url(#b1)"/>
<path d="M1275.9 332.7 C 1260.1 348.5, 1260.1 366.9, 1273.3 380.1" fill="none" stroke="#5a3446" stroke-width="2.2" opacity="0.7" filter="url(#b1)"/>
<ellipse cx="1242.2" cy="389.3" rx="7" ry="4.4" fill="none" stroke="#2a1c30" stroke-width="2.2" filter="url(#b1)"/>
<circle cx="1353.6" cy="427.5" r="2.6" fill="#2a1830" opacity="0.8"/>
<circle cx="1299.6" cy="461.8" r="2.6" fill="#2a1830" opacity="0.8"/>
<circle cx="1283.3" cy="467.6" r="2.6" fill="#2a1830" opacity="0.8"/>
<circle cx="1328.6" cy="359" r="2.6" fill="#2a1830" opacity="0.8"/>
<circle cx="1387.9" cy="423.6" r="2.6" fill="#2a1830" opacity="0.8"/>
</g>
<rect x="1179.4" y="291.4" width="67.6" height="43.6" fill="#fff"/>
<text x="1185.4" y="319.2" font-size="22.4" fill="#231f20">CSH<tspan font-style="italic" font-size="15.5" dy="5.5">x</tspan></text>
<rect x="1320.2" y="287.6" width="111.2" height="31.4" fill="#fff"/>
<text x="1323.4" y="309.8" font-size="22.4" text-anchor="start" fill="#231f20" >Electrodes</text>
<rect x="1176.2" y="429.4" width="36.8" height="44.2" fill="#fff"/>
<text x="1183.3" y="459.4" font-size="22.4" fill="#231f20">H<tspan font-size="15.5" dy="5.5">2</tspan></text>
<rect x="1359.6" y="472.9" width="71.8" height="27.4" fill="#fff"/>
<text x="1364" y="492.6" font-size="22.4" text-anchor="start" fill="#231f20" >4 GPa</text>
<rect x="1155" y="506.6" width="274.8" height="34.6" fill="#fff"/>
<text x="1176.2" y="530.4" font-size="22.4" text-anchor="start" fill="#231f20" letter-spacing="0.17">Photochemical process</text>
<line x1="1245.5" y1="333.5" x2="1261.2" y2="344.8" stroke="#fff" stroke-width="2.6" />
<polygon points="1271.8,352.4 1256.5,348 1262.8,339.3" fill="#fff" stroke="none" stroke-width="0" />
<line x1="1321" y1="305" x2="1305" y2="312.4" stroke="#fff" stroke-width="2.6" />
<polygon points="1293.2,317.8 1304.6,306.6 1309.1,316.4" fill="#fff" stroke="none" stroke-width="0" />
<line x1="1370" y1="319" x2="1361.7" y2="381.5" stroke="#fff" stroke-width="2.6" />
<polygon points="1359.6,397.4 1356.6,378.8 1367.3,380.3" fill="#fff" stroke="none" stroke-width="0" />
<line x1="1211" y1="431.5" x2="1226.5" y2="417.7" stroke="#fff" stroke-width="2.6" />
<polygon points="1236.2,409 1228.6,423 1221.4,415" fill="#fff" stroke="none" stroke-width="0" />
<rect x="1145.5" y="547.5" width="293" height="299.5" fill="url(#g3)"/>
<g clip-path="url(#cpb3)">
<path d="M1100 500H1480V900H1100Z M1342.7 685.6 m-94 0 a94 94 0 1 0 188 0 a94 94 0 1 0 -188 0Z" fill="#363b5c" fill-rule="evenodd" opacity="0.22" filter="url(#b2)"/>
<polygon points="1285.3,558.3 1316.9,558.3 1311.8,613.3 1301.5,647.7 1292.2,647.7 1289.4,613.3" fill="#6f76b4" stroke="none" stroke-width="0" filter="url(#b4)" opacity="0.9"/>
<polygon points="1291.5,563.1 1310.7,563.1 1306.6,599.6 1300.4,612.6 1294.9,609.2" fill="#ffffff" stroke="none" stroke-width="0" filter="url(#b1)"/>
<polygon points="1295.6,606.5 1303.9,606.5 1299.1,646 1293.6,646" fill="#a8d4f0" stroke="none" stroke-width="0" filter="url(#b2)" opacity="0.75"/>
<polygon points="1155.3,672.5 1153.9,713.7 1213.8,711 1256.8,701.4 1256.8,692.4 1200,677.3" fill="#8880b8" stroke="none" stroke-width="0" filter="url(#b4)" opacity="0.95"/>
<polygon points="1161.5,678 1159.4,708.9 1213.8,706.2 1250.9,697.9 1250.2,694.5 1196.6,681.4" fill="#ffffff" stroke="none" stroke-width="0" filter="url(#b1)"/>
<polygon points="1316.9,681.4 1365.1,669 1427.7,662.2 1429,698.6 1365.1,694.5 1316.9,690.4" fill="#75699f" stroke="none" stroke-width="0" filter="url(#b4)" opacity="0.95"/>
<polygon points="1330.7,682.8 1378.8,673.9 1422.9,667 1424.2,693.8 1378.8,689 1330.7,687.6" fill="#f3eefb" stroke="none" stroke-width="0" filter="url(#b2)"/>
<polygon points="1365.1,678 1422.2,669 1422.9,691.7 1365.1,686.9" fill="#ffffff" stroke="none" stroke-width="0" filter="url(#b2)" opacity="0.9"/>
<polygon points="1292.2,738.9 1300.4,738.9 1312.1,812.8 1279.8,812.8 1286.7,768.1" fill="#6e7099" stroke="none" stroke-width="0" filter="url(#b4)" opacity="0.85"/>
<polygon points="1293.6,757.8 1300.4,757.8 1306.6,811.1 1286,811.1" fill="#d9dcee" stroke="none" stroke-width="0" filter="url(#b2)" opacity="0.92"/>
<ellipse cx="1282.6" cy="689" rx="5.5" ry="2.1" fill="#7fb6e6" opacity="0.8" filter="url(#b1)"/>
<ellipse cx="1292.2" cy="694.1" rx="3.4" ry="3.1" fill="#5f96d2" opacity="0.8" filter="url(#b1)"/>
<ellipse cx="1277.4" cy="711.3" rx="6.2" ry="1.4" fill="#b4daf8" opacity="0.8" filter="url(#b1)"/>
<ellipse cx="1299.7" cy="699.3" rx="2.8" ry="3.4" fill="#4e79b8" opacity="0.8" filter="url(#b1)"/>
<ellipse cx="1270.5" cy="692.4" rx="2.8" ry="1.7" fill="#5a86c0" opacity="0.8" filter="url(#b1)"/>
<ellipse cx="1289.4" cy="682.1" rx="3.1" ry="1.4" fill="#6fa0d8" opacity="0.8" filter="url(#b1)"/>
<ellipse cx="1296.3" cy="709.6" rx="4.1" ry="1.4" fill="#6a9ad4" opacity="0.8" filter="url(#b1)"/>
<polygon points="1292.9,644.3 1310.1,658 1316.3,671.8 1319.7,689 1321.1,706.2 1316.9,723.4 1306.6,736.4 1291.1,737.1 1282.6,732 1275.7,730.3 1263.6,725.1 1256.8,711.3 1252.3,695.9 1253.3,678.7 1260.2,664.9 1274,652.9" fill="none" stroke="#fff" stroke-width="2.3" stroke-linejoin="round"/>
</g>
<rect x="1152.6" y="553.7" width="112" height="32.5" fill="#fff"/>
<text x="1154.6" y="577" font-size="22.4" text-anchor="start" fill="#231f20" >Electrodes</text>
<rect x="1188.7" y="716.2" width="68.7" height="43.4" fill="#fff"/>
<text x="1195.8" y="744.2" font-size="22.4" fill="#231f20">CSH<tspan font-style="italic" font-size="15.5" dy="5.5">x</tspan></text>
<rect x="1152.6" y="781.2" width="131.2" height="28.8" fill="#fff"/>
<rect x="1152.6" y="809" width="279.2" height="34.2" fill="#fff"/>
<text x="1167.4" y="805.4" font-size="22.4" text-anchor="start" fill="#231f20" >Completed</text>
<text x="1167.4" y="831.8" font-size="22.4" text-anchor="start" fill="#231f20" letter-spacing="0.2">photochemical process</text>
<line x1="1217.6" y1="588.7" x2="1272" y2="604.6" stroke="#fff" stroke-width="2.6" />
<polygon points="1286.4,608.8 1268.6,609.2 1271.6,598.8" fill="#fff" stroke="none" stroke-width="0" />
<line x1="1188" y1="588.7" x2="1178.3" y2="656.2" stroke="#fff" stroke-width="2.6" />
<polygon points="1176,672 1173.2,653.4 1183.9,655" fill="#fff" stroke="none" stroke-width="0" />
<line x1="1257.3" y1="753" x2="1272.6" y2="741" stroke="#fff" stroke-width="2.6" />
<polygon points="1282.8,733 1274.3,746.5 1267.7,738" fill="#fff" stroke="none" stroke-width="0" />
</g>
<g id="panel-c">
<rect x="1595" y="16.8" width="342.8" height="758.2" fill="#c9e1f1"/>
<rect x="1937.8" y="16.8" width="209.2" height="758.2" fill="#fee8cb"/>
<line x1="1937.8" y1="17.8" x2="1937.8" y2="775" stroke="#111" stroke-width="2.2" stroke-dasharray="11.5 4 2.4 4"/>
<path d="M1669.1 670.6 C1674.5 662.9 1691.2 638 1701.4 624.4 C1711.7 610.8 1720.7 599.7 1730.6 588.9 C1740.5 578.1 1751.6 568.2 1760.8 559.8 C1770 551.4 1776.1 545.8 1785.6 538.5 C1795.1 531.2 1807.5 522.6 1817.6 516.1 C1827.7 509.6 1836.5 504.3 1846 499.4 C1855.5 494.5 1864.9 490.1 1874.4 486.8 C1883.9 483.5 1892.2 481.5 1902.8 479.6 C1913.4 477.7 1932.1 475.9 1938 475.2" fill="none" stroke="#3b3b3c" stroke-width="3.6" stroke-linecap="butt"/>
<path d="M1938 475.2 C1939.7 469.5 1943 459.9 1948.1 441 C1953.2 422.1 1962.4 385.5 1968.7 362 C1975 338.5 1980.2 318.5 1985.9 300.2 C1991.6 281.9 1997.6 266.3 2003 252 C2008.4 237.7 2013.2 226.4 2018.5 214.4 C2023.8 202.4 2030 189.8 2034.7 180 C2039.4 170.2 2041.1 165.7 2046.7 155.8 C2052.3 145.9 2062 130.1 2068.4 120.8 C2074.8 111.5 2079.6 105.9 2085 100 C2090.4 94.1 2098.3 87.7 2101 85.2" fill="none" stroke="#3b3b3c" stroke-width="3.6" stroke-linecap="butt" stroke-linejoin="miter"/>
<path d="M2052.4 70.3H2122.4M2052.4 66.7V73.9M2122.4 66.7V73.9" stroke="#3f3f40" stroke-width="1.2" fill="none"/>
<path d="M2065.5 103.6H2135.5M2065.5 100V107.2M2135.5 100V107.2" stroke="#3f3f40" stroke-width="1.2" fill="none"/>
<path d="M2008.8 159.9H2074.8M2008.8 156.3V163.5M2074.8 156.3V163.5" stroke="#3f3f40" stroke-width="1.2" fill="none"/>
<path d="M1977.2 272.1H2041.2M1977.2 268.5V275.7M2041.2 268.5V275.7" stroke="#3f3f40" stroke-width="1.2" fill="none"/>
<path d="M1946.9 302.6H2007.7M1946.9 299V306.2M2007.7 299V306.2" stroke="#3f3f40" stroke-width="1.2" fill="none"/>
<path d="M1918.9 450H1977.3M1918.9 446.4V453.6M1977.3 446.4V453.6" stroke="#3f3f40" stroke-width="1.2" fill="none"/>
<path d="M1880.9 419.5H1936.9M1880.9 415.9V423.1M1936.9 415.9V423.1" stroke="#3f3f40" stroke-width="1.2" fill="none"/>
<path d="M1844.1 501.9H1896.1M1844.1 498.3V505.5M1896.1 498.3V505.5" stroke="#3f3f40" stroke-width="1.2" fill="none"/>
<path d="M1784.5 545.2H1832.1M1784.5 541.6V548.8M1832.1 541.6V548.8" stroke="#3f3f40" stroke-width="1.2" fill="none"/>
<path d="M1710.2 597.1H1751M1710.2 593.5V600.7M1751 593.5V600.7" stroke="#3f3f40" stroke-width="1.2" fill="none"/>
<path d="M2024.4 89.8H2091.8M2024.4 86.2V93.4M2091.8 86.2V93.4" stroke="#3f3f40" stroke-width="1.2" fill="none"/>
<path d="M2002.8 128.8H2068M2002.8 125.2V132.4M2068 125.2V132.4" stroke="#3f3f40" stroke-width="1.2" fill="none"/>
<path d="M1946.9 388.5H2007.7M1946.9 384.9V392.1M2007.7 384.9V392.1" stroke="#3f3f40" stroke-width="1.2" fill="none"/>
<path d="M1797.1 535.6H1845.1M1797.1 532V539.2M1845.1 532V539.2" stroke="#3f3f40" stroke-width="1.2" fill="none"/>
<path d="M2024.4 120.8H2091.8M2024.4 117.2V124.4M2091.8 117.2V124.4" stroke="#3f3f40" stroke-width="1.2" fill="none"/>
<path d="M1999.7 212H2064.9M1999.7 208.4V215.6M2064.9 208.4V215.6" stroke="#3f3f40" stroke-width="1.2" fill="none"/>
<path d="M1971.6 281.3H2034.4M1971.6 277.7V284.9M2034.4 277.7V284.9" stroke="#3f3f40" stroke-width="1.2" fill="none"/>
<path d="M1875.3 493.4H1929.7M1875.3 489.8V497M1929.7 489.8V497" stroke="#3f3f40" stroke-width="1.2" fill="none"/>
<path d="M1766.3 575.8H1812.1M1766.3 572.2V579.4M1812.1 572.2V579.4" stroke="#3f3f40" stroke-width="1.2" fill="none"/>
<path d="M1906.3 415.5H1963.3M1906.3 411.9V419.1M1963.3 411.9V419.1" stroke="#3f3f40" stroke-width="1.2" fill="none"/>
<path d="M1878.1 471.8H1932.9M1878.1 468.2V475.4M1932.9 468.2V475.4" stroke="#3f3f40" stroke-width="1.2" fill="none"/>
<path d="M1850.5 484.8H1902.5M1850.5 481.2V488.4M1902.5 481.2V488.4" stroke="#3f3f40" stroke-width="1.2" fill="none"/>
<path d="M1763.2 532.4H1808M1763.2 528.8V536M1808 528.8V536" stroke="#3f3f40" stroke-width="1.2" fill="none"/>
<path d="M1682.7 603.8H1720.1M1682.7 600.2V607.4M1720.1 600.2V607.4" stroke="#3f3f40" stroke-width="1.2" fill="none"/>
<path d="M1651.1 679.5H1687.1M1651.1 675.9V683.1M1687.1 675.9V683.1" stroke="#3f3f40" stroke-width="1.2" fill="none"/>
<path d="M1719.7 580H1761.3M1719.7 576.4V583.6M1761.3 576.4V583.6" stroke="#3f3f40" stroke-width="1.2" fill="none"/>
<path d="M1738.6 571.1H1781.4M1738.6 567.5V574.7M1781.4 567.5V574.7" stroke="#3f3f40" stroke-width="1.2" fill="none"/>
<path d="M1775.9 516.8H1821.7M1775.9 513.2V520.4M1821.7 513.2V520.4" stroke="#3f3f40" stroke-width="1.2" fill="none"/>
<path d="M1787.9 488H1835.1M1787.9 484.4V491.6M1835.1 484.4V491.6" stroke="#3f3f40" stroke-width="1.2" fill="none"/>
<path d="M1809.7 458.5H1858.9M1809.7 454.9V462.1M1858.9 454.9V462.1" stroke="#3f3f40" stroke-width="1.2" fill="none"/>
<rect x="1754.9" y="566" width="10.2" height="10.2" fill="#fff" stroke="#2b2526" stroke-width="1.1"/>
<rect x="1793.7" y="511.7" width="10.2" height="10.2" fill="#fff" stroke="#2b2526" stroke-width="1.1"/>
<rect x="1806.4" y="482.9" width="10.2" height="10.2" fill="#fff" stroke="#2b2526" stroke-width="1.1"/>
<rect x="1829.2" y="453.4" width="10.2" height="10.2" fill="#fff" stroke="#2b2526" stroke-width="1.1"/>
<rect x="1929.7" y="410.4" width="10.2" height="10.2" fill="#5b9bd5" stroke="#2b2526" stroke-width="1.1"/>
<rect x="1900.4" y="466.7" width="10.2" height="10.2" fill="#5b9bd5" stroke="#2b2526" stroke-width="1.1"/>
<rect x="1871.4" y="479.7" width="10.2" height="10.2" fill="#5b9bd5" stroke="#2b2526" stroke-width="1.1"/>
<rect x="1780.5" y="527.3" width="10.2" height="10.2" fill="#5b9bd5" stroke="#2b2526" stroke-width="1.1"/>
<rect x="1696.3" y="598.7" width="10.2" height="10.2" fill="#5b9bd5" stroke="#2b2526" stroke-width="1.1"/>
<polygon points="2058.1,82.6 2064.9,95 2051.3,95" fill="#7db43a" stroke="#2b2526" stroke-width="1.1" />
<polygon points="2035.4,121.6 2042.2,134 2028.6,134" fill="#7db43a" stroke="#2b2526" stroke-width="1.1" />
<polygon points="1977.3,381.3 1984.1,393.7 1970.5,393.7" fill="#7db43a" stroke="#2b2526" stroke-width="1.1" />
<polygon points="1821.1,528.4 1827.9,540.8 1814.3,540.8" fill="#7db43a" stroke="#2b2526" stroke-width="1.1" />
<polygon points="2058.1,112.9 2066,120.8 2058.1,128.7 2050.2,120.8" fill="#f8ec1c" stroke="#2b2526" stroke-width="1.1" />
<polygon points="2032.3,204.1 2040.2,212 2032.3,219.9 2024.4,212" fill="#f8ec1c" stroke="#2b2526" stroke-width="1.1" />
<polygon points="2003,273.4 2010.9,281.3 2003,289.2 1995.1,281.3" fill="#f8ec1c" stroke="#2b2526" stroke-width="1.1" />
<polygon points="1902.5,485.5 1910.4,493.4 1902.5,501.3 1894.6,493.4" fill="#f8ec1c" stroke="#2b2526" stroke-width="1.1" />
<polygon points="1789.2,567.9 1797.1,575.8 1789.2,583.7 1781.3,575.8" fill="#f8ec1c" stroke="#2b2526" stroke-width="1.1" />
<circle cx="2087.4" cy="70.3" r="6.1" fill="#ee4a69" stroke="#2b2526" stroke-width="1.1"/>
<circle cx="2100.5" cy="103.6" r="6.1" fill="#ee4a69" stroke="#2b2526" stroke-width="1.1"/>
<circle cx="2041.8" cy="159.9" r="6.1" fill="#ee4a69" stroke="#2b2526" stroke-width="1.1"/>
<circle cx="2009.2" cy="272.1" r="6.1" fill="#ee4a69" stroke="#2b2526" stroke-width="1.1"/>
<circle cx="1977.3" cy="302.6" r="6.1" fill="#ee4a69" stroke="#2b2526" stroke-width="1.1"/>
<circle cx="1948.1" cy="450" r="6.1" fill="#ee4a69" stroke="#2b2526" stroke-width="1.1"/>
<circle cx="1908.9" cy="419.5" r="6.1" fill="#ee4a69" stroke="#2b2526" stroke-width="1.1"/>
<circle cx="1870.1" cy="501.9" r="6.1" fill="#ee4a69" stroke="#2b2526" stroke-width="1.1"/>
<circle cx="1808.3" cy="545.2" r="6.1" fill="#ee4a69" stroke="#2b2526" stroke-width="1.1"/>
<circle cx="1730.6" cy="597.1" r="6.1" fill="#ee4a69" stroke="#2b2526" stroke-width="1.1"/>
<circle cx="1669.1" cy="679.5" r="6.1" fill="#fff" stroke="#2b2526" stroke-width="1.1"/>
<circle cx="1740.5" cy="580" r="6.1" fill="#fff" stroke="#2b2526" stroke-width="1.1"/>
<rect x="1595" y="16.8" width="550.7" height="758.2" fill="none" stroke="#231f20" stroke-width="2.4"/>
<line x1="1708.3" y1="16.8" x2="1708.3" y2="28.3" stroke="#231f20" stroke-width="2.3" />
<line x1="1708.3" y1="775" x2="1708.3" y2="763.5" stroke="#231f20" stroke-width="2.3" />
<text x="1711.7" y="811.2" font-size="28" text-anchor="middle" fill="#231f20" letter-spacing="0.9">150</text>
<line x1="1870.3" y1="16.8" x2="1870.3" y2="28.3" stroke="#231f20" stroke-width="2.3" />
<line x1="1870.3" y1="775" x2="1870.3" y2="763.5" stroke="#231f20" stroke-width="2.3" />
<text x="1873.7" y="811.2" font-size="28" text-anchor="middle" fill="#231f20" letter-spacing="0.9">200</text>
<line x1="2032.3" y1="16.8" x2="2032.3" y2="28.3" stroke="#231f20" stroke-width="2.3" />
<line x1="2032.3" y1="775" x2="2032.3" y2="763.5" stroke="#231f20" stroke-width="2.3" />
<text x="2035.7" y="811.2" font-size="28" text-anchor="middle" fill="#231f20" letter-spacing="0.9">250</text>
<line x1="1627.3" y1="16.8" x2="1627.3" y2="22.8" stroke="#231f20" stroke-width="2.3" />
<line x1="1627.3" y1="775" x2="1627.3" y2="769" stroke="#231f20" stroke-width="2.3" />
<line x1="1789.3" y1="16.8" x2="1789.3" y2="22.8" stroke="#231f20" stroke-width="2.3" />
<line x1="1789.3" y1="775" x2="1789.3" y2="769" stroke="#231f20" stroke-width="2.3" />
<line x1="1951.3" y1="16.8" x2="1951.3" y2="22.8" stroke="#231f20" stroke-width="2.3" />
<line x1="1951.3" y1="775" x2="1951.3" y2="769" stroke="#231f20" stroke-width="2.3" />
<line x1="2113.3" y1="16.8" x2="2113.3" y2="22.8" stroke="#231f20" stroke-width="2.3" />
<line x1="2113.3" y1="775" x2="2113.3" y2="769" stroke="#231f20" stroke-width="2.3" />
<text x="1582.2" y="783.8" font-size="28" text-anchor="end" fill="#231f20" letter-spacing="0.9">125</text>
<line x1="1595" y1="666.8" x2="1606" y2="666.8" stroke="#231f20" stroke-width="2.3" />
<line x1="2145.7" y1="666.8" x2="2134.2" y2="666.8" stroke="#231f20" stroke-width="2.3" />
<text x="1582.2" y="675.5" font-size="28" text-anchor="end" fill="#231f20" letter-spacing="0.9">150</text>
<line x1="1595" y1="558.4" x2="1606" y2="558.4" stroke="#231f20" stroke-width="2.3" />
<line x1="2145.7" y1="558.4" x2="2134.2" y2="558.4" stroke="#231f20" stroke-width="2.3" />
<text x="1582.2" y="567.1" font-size="28" text-anchor="end" fill="#231f20" letter-spacing="0.9">175</text>
<line x1="1595" y1="450.1" x2="1606" y2="450.1" stroke="#231f20" stroke-width="2.3" />
<line x1="2145.7" y1="450.1" x2="2134.2" y2="450.1" stroke="#231f20" stroke-width="2.3" />
<text x="1582.2" y="458.8" font-size="28" text-anchor="end" fill="#231f20" letter-spacing="0.9">200</text>
<line x1="1595" y1="341.8" x2="1606" y2="341.8" stroke="#231f20" stroke-width="2.3" />
<line x1="2145.7" y1="341.8" x2="2134.2" y2="341.8" stroke="#231f20" stroke-width="2.3" />
<text x="1582.2" y="350.5" font-size="28" text-anchor="end" fill="#231f20" letter-spacing="0.9">225</text>
<line x1="1595" y1="233.5" x2="1606" y2="233.5" stroke="#231f20" stroke-width="2.3" />
<line x1="2145.7" y1="233.5" x2="2134.2" y2="233.5" stroke="#231f20" stroke-width="2.3" />
<text x="1582.2" y="242.2" font-size="28" text-anchor="end" fill="#231f20" letter-spacing="0.9">250</text>
<line x1="1595" y1="125.1" x2="1606" y2="125.1" stroke="#231f20" stroke-width="2.3" />
<line x1="2145.7" y1="125.1" x2="2134.2" y2="125.1" stroke="#231f20" stroke-width="2.3" />
<text x="1582.2" y="133.8" font-size="28" text-anchor="end" fill="#231f20" letter-spacing="0.9">275</text>
<text x="1582.2" y="25.5" font-size="28" text-anchor="end" fill="#231f20" letter-spacing="0.9">300</text>
<line x1="1595" y1="720.9" x2="1600.5" y2="720.9" stroke="#231f20" stroke-width="2.3" />
<line x1="2145.7" y1="720.9" x2="2140.2" y2="720.9" stroke="#231f20" stroke-width="2.3" />
<line x1="1595" y1="612.6" x2="1600.5" y2="612.6" stroke="#231f20" stroke-width="2.3" />
<line x1="2145.7" y1="612.6" x2="2140.2" y2="612.6" stroke="#231f20" stroke-width="2.3" />
<line x1="1595" y1="504.3" x2="1600.5" y2="504.3" stroke="#231f20" stroke-width="2.3" />
<line x1="2145.7" y1="504.3" x2="2140.2" y2="504.3" stroke="#231f20" stroke-width="2.3" />
<line x1="1595" y1="395.9" x2="1600.5" y2="395.9" stroke="#231f20" stroke-width="2.3" />
<line x1="2145.7" y1="395.9" x2="2140.2" y2="395.9" stroke="#231f20" stroke-width="2.3" />
<line x1="1595" y1="287.6" x2="1600.5" y2="287.6" stroke="#231f20" stroke-width="2.3" />
<line x1="2145.7" y1="287.6" x2="2140.2" y2="287.6" stroke="#231f20" stroke-width="2.3" />
<line x1="1595" y1="179.3" x2="1600.5" y2="179.3" stroke="#231f20" stroke-width="2.3" />
<line x1="2145.7" y1="179.3" x2="2140.2" y2="179.3" stroke="#231f20" stroke-width="2.3" />
<line x1="1595" y1="71" x2="1600.5" y2="71" stroke="#231f20" stroke-width="2.3" />
<line x1="2145.7" y1="71" x2="2140.2" y2="71" stroke="#231f20" stroke-width="2.3" />
<text x="1487.4" y="24.2" font-size="34" text-anchor="start" fill="#231f20" font-weight="bold" stroke="#231f20" stroke-width="0.9">c</text>
<text transform="translate(1501.8,433) rotate(-90)" font-size="28" fill="#231f20"><tspan font-style="italic">T</tspan><tspan dx="0.5" dy="9.8" font-size="20.5">c</tspan><tspan dy="-9.8"> (K)</tspan></text>
<text x="1818.4" y="865.6" font-size="28" fill="#231f20"><tspan font-style="italic">P</tspan><tspan dx="3.6"> (GPa)</tspan></text>
<line x1="1642.6" y1="71.7" x2="1613.3" y2="71.7" stroke="#ed1c24" stroke-width="2.4" />
<polygon points="1595.8,71.7 1615.3,67 1615.3,76.4" fill="#ed1c24" stroke="none" stroke-width="0" />
<text x="1649.2" y="79.8" font-size="27.6" text-anchor="start" fill="#ed1c24" letter-spacing="0.66">Room temperature</text>
<line x1="1642.6" y1="136.2" x2="1613.3" y2="136.2" stroke="#231f20" stroke-width="2.4" />
<polygon points="1595.8,136.2 1615.3,131.5 1615.3,140.9" fill="#231f20" stroke="none" stroke-width="0" />
<text x="1649.2" y="145.5" font-size="27.6" text-anchor="start" fill="#231f20" letter-spacing="0.55">Freezing point</text>
<text x="1649.2" y="179.9" font-size="27.6" text-anchor="start" fill="#231f20" letter-spacing="0.8">of water</text>
<rect x="1955.5" y="510.3" width="9.6" height="9.6" fill="#5b9bd5" stroke="#2b2526" stroke-width="1.1"/>
<circle cx="1960.3" cy="557.1" r="5.9" fill="#ee4a69" stroke="#2b2526" stroke-width="1.1"/>
<polygon points="1960.3,592 1967.7,599.4 1960.3,606.8 1952.9,599.4" fill="#f8ec1c" stroke="#2b2526" stroke-width="1.1" />
<polygon points="1960.3,634.5 1967,646.7 1953.6,646.7" fill="#7db43a" stroke="#2b2526" stroke-width="1.1" />
<circle cx="1960.3" cy="683.6" r="5.9" fill="#fff" stroke="#2b2526" stroke-width="1.1"/>
<rect x="1955.5" y="721.1" width="9.6" height="9.6" fill="#fff" stroke="#2b2526" stroke-width="1.1"/>
<text x="1981.6" y="524.5" font-size="27.6" fill="#231f20"><tspan letter-spacing="0.4">Run 1 (</tspan><tspan dx="3" font-family='"Liberation Serif", serif' font-style="italic" font-size="33">ρ</tspan><tspan dx="1.5">)</tspan></text>
<text x="1981.6" y="566.4" font-size="27.6" fill="#231f20"><tspan letter-spacing="0.4">Run 2 (</tspan><tspan dx="3" font-family='"Liberation Serif", serif' font-style="italic" font-size="33">ρ</tspan><tspan dx="1.5">)</tspan></text>
<text x="1981.6" y="608.7" font-size="27.6" fill="#231f20"><tspan letter-spacing="0.4">Run 3 (</tspan><tspan dx="3" font-family='"Liberation Serif", serif' font-style="italic" font-size="33">ρ</tspan><tspan dx="1.5">)</tspan></text>
<text x="1981.6" y="650.3" font-size="27.6" fill="#231f20"><tspan letter-spacing="0.4">Run 4 (</tspan><tspan dx="3" font-family='"Liberation Serif", serif' font-style="italic" font-size="33">ρ</tspan><tspan dx="1.5">)</tspan></text>
<text x="1981.6" y="693" font-size="27.6" fill="#231f20"><tspan letter-spacing="0.4">Run 1 (</tspan><tspan dx="2.5" font-family='"Liberation Serif", serif' font-style="italic" font-size="33">χ</tspan><tspan dx="0" font-family='"Liberation Serif", serif' font-size="30">′</tspan><tspan dx="0.5">)</tspan></text>
<text x="1981.6" y="735.3" font-size="27.6" fill="#231f20"><tspan letter-spacing="0.4">Run 2 (</tspan><tspan dx="2.5" font-family='"Liberation Serif", serif' font-style="italic" font-size="33">χ</tspan><tspan dx="0" font-family='"Liberation Serif", serif' font-size="30">′</tspan><tspan dx="0.5">)</tspan></text>
</g>
</svg>
</body></html>
